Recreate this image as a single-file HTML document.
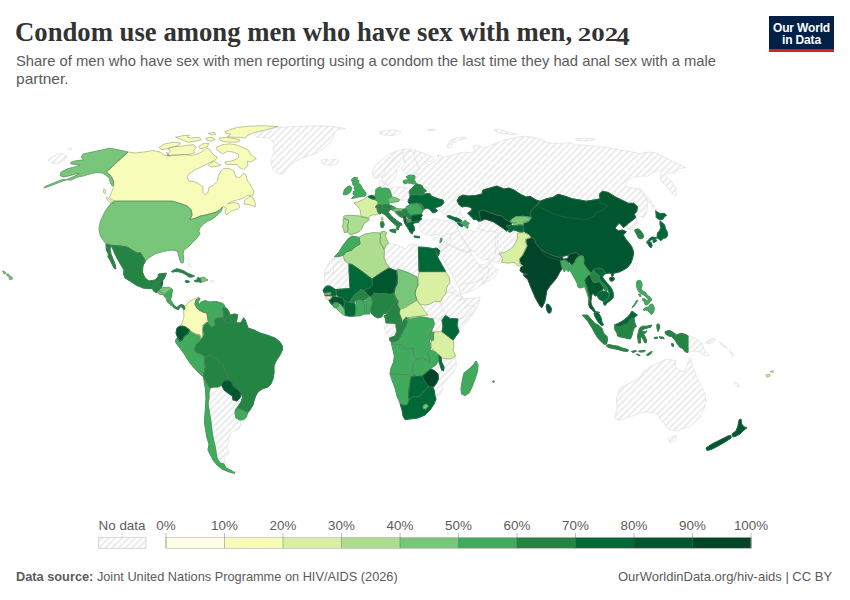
<!DOCTYPE html>
<html><head><meta charset="utf-8">
<style>
html,body{margin:0;padding:0;background:#fff;}
body{width:850px;height:600px;position:relative;overflow:hidden;font-family:"Liberation Sans",sans-serif;}
.t{position:absolute;white-space:nowrap;transform-origin:0 0;}
#title{left:15px;top:16px;font-family:"Liberation Serif",serif;font-weight:bold;font-size:27px;line-height:32px;color:#333;transform:scaleX(0.989);}
.sub{font-size:14.5px;line-height:18px;color:#5b5b5b;}
#logo{position:absolute;left:769px;top:16px;width:65px;height:33px;background:#002147;border-bottom:3px solid #ce261e;color:#fff;font-weight:bold;font-size:12px;line-height:12px;text-align:center;letter-spacing:-0.15px;}
#logo div{padding-top:5.5px}
.lg{position:absolute;font-size:13.4px;color:#5b5b5b;top:518.4px;width:60px;text-align:center;line-height:16px;}
.ft{font-size:13px;color:#5b5b5b;top:569px;line-height:16px;}
svg{position:absolute;left:0;top:0;}
</style></head><body>
<div id="title" class="t"><span id="tmain">Condom use among men who have sex with men,</span> <span id="y1" style="display:inline-block;font-size:18.2px;transform:scaleX(1.5);transform-origin:0 100%;width:39.4px;margin-left:-1.5px;">202</span><span id="y2" style="display:inline-block;font-size:24.2px;position:relative;top:4.3px;transform:scaleX(1.12);transform-origin:0 100%;">4</span></div>
<div id="s1" class="t sub" style="left:15.6px;top:52.3px;transform:scaleX(1.0195)">Share of men who have sex with men reporting using a condom the last time they had anal sex with a male</div>
<div id="s2" class="t sub" style="left:15.6px;top:70.3px;transform:scaleX(1.07)">partner.</div>
<div id="logo"><div>Our World<br>in Data</div></div>
<div id="f1" class="t ft" style="left:16px;transform:scaleX(0.982)"><b>Data source:</b> Joint United Nations Programme on HIV/AIDS (2026)</div>
<div id="f2" class="t ft" style="left:618px;">OurWorldinData.org/hiv-aids | CC BY</div>
<svg width="850" height="600" viewBox="0 0 850 600">
<defs><pattern id="hatch" patternUnits="userSpaceOnUse" width="4.69" height="4.69" patternTransform="rotate(-45)"><rect width="4.69" height="4.69" fill="#fff"/><line x1="0" y1="2.3" x2="4.69" y2="2.3" stroke="#e7e7e7" stroke-width="1.7"/></pattern></defs>
<path d="M254.9,135.0 258.4,132.2 268.3,129.3 278.2,127.2 289.6,126.8 299.5,126.5 310.8,125.8 322.2,125.8 333.5,126.5 345.5,128.6 337.7,129.6 334.2,132.2 334.2,135.7 332.1,139.2 329.9,142.8 326.4,146.3 322.2,149.9 317.2,152.7 310.8,155.1 303.7,157.7 296.7,160.5 291.7,163.3 287.5,168.3 284.6,172.5 281.1,174.4 276.1,172.5 273.3,169.7 271.2,164.7 270.5,159.8 272.6,155.5 274.7,152.0 272.9,148.5 274.7,144.9 271.9,140.7 267.6,137.8 261.2,137.8 256.3,137.1Z" fill="url(#hatch)" stroke="#d4d4d4" stroke-width="0.5" stroke-linejoin="round"/>
<path d="M321.0,160.5 324.3,159.1 329.2,160.2 334.2,159.1 338.0,160.2 338.4,162.6 334.9,164.5 329.9,165.5 325.0,164.7 321.9,163.0Z" fill="url(#hatch)" stroke="#d4d4d4" stroke-width="0.5" stroke-linejoin="round"/>
<path d="M237.6,314.6 241.0,315.0 243.6,318.0 241.0,322.6 239.0,323.0 237.0,322.0 237.0,319.0Z" fill="url(#hatch)" stroke="#d4d4d4" stroke-width="0.5" stroke-linejoin="round"/>
<path d="M210.0,388.0 213.0,387.0 218.0,387.0 221.6,385.0 224.0,390.0 228.0,393.0 232.4,396.0 233.0,400.0 237.0,401.0 240.0,398.0 241.6,401.0 239.0,405.0 237.0,408.0 235.6,409.0 235.0,413.0 236.0,418.0 240.0,420.0 241.0,425.0 239.0,429.0 234.0,431.0 230.0,434.0 229.0,438.0 228.0,443.0 227.0,447.0 228.0,451.0 229.0,454.0 226.0,456.0 224.4,459.0 225.0,463.0 228.0,464.0 227.0,466.0 229.0,468.0 234.0,471.0 237.0,472.0 235.0,473.0 230.0,470.0 226.0,468.0 224.0,464.0 220.0,463.0 217.0,458.0 216.0,452.0 215.0,446.0 213.6,440.0 212.4,434.0 211.6,428.0 211.0,422.0 210.0,416.0 209.0,410.0 208.0,404.0 209.0,398.0 209.0,392.0Z" fill="url(#hatch)" stroke="#d4d4d4" stroke-width="0.5" stroke-linejoin="round"/>
<path d="M688.0,335.6 696.0,338.0 702.0,343.0 704.0,349.0 709.0,355.0 705.0,356.0 700.0,352.0 695.0,351.0 690.0,352.0 688.0,350.0ZM706.0,342.0 712.0,340.0 715.0,338.0 716.0,340.0 712.0,342.4 708.0,344.0Z" fill="url(#hatch)" stroke="#d4d4d4" stroke-width="0.5" stroke-linejoin="round"/>
<path d="M625.8,225.8 628.3,223.3 631.7,220.8 635.8,217.5 637.5,221.7 635.0,225.8 633.3,229.2 630.0,230.0 627.5,228.3Z" fill="url(#hatch)" stroke="#d4d4d4" stroke-width="0.5" stroke-linejoin="round"/>
<path d="M373.0,170.0 374.0,167.0 378.0,163.0 383.0,159.0 388.0,155.0 394.0,152.0 402.0,149.6 409.0,149.0 414.0,150.0 420.0,152.0 427.0,154.4 431.4,156.0 434.0,158.0 433.0,160.0 430.0,161.4 427.0,161.0 425.0,162.0 426.0,164.0 429.0,164.4 431.0,163.4 434.0,161.4 437.0,159.4 439.0,157.4 437.0,155.0 440.0,155.0 442.4,157.0 444.0,157.0 450.0,156.0 456.0,154.0 464.0,152.0 472.0,153.0 475.0,150.0 473.0,146.0 478.0,145.0 484.0,148.0 490.0,146.0 496.0,143.0 504.0,140.0 514.0,138.0 524.0,136.0 532.0,137.0 540.0,139.0 547.5,142.5 558.8,143.8 570.0,142.5 575.0,145.0 585.0,145.0 597.5,146.2 607.5,147.5 620.0,150.0 630.0,151.2 640.0,153.8 647.5,152.0 655.0,152.5 665.0,157.5 675.0,162.5 681.2,165.0 685.5,167.5 678.8,168.8 675.0,173.8 670.0,172.5 666.2,176.2 672.5,182.5 676.2,188.8 676.2,196.2 672.5,193.8 667.5,187.5 662.5,182.5 660.0,178.8 661.2,173.8 658.8,170.0 653.8,172.5 647.5,176.2 640.0,176.2 632.5,177.5 626.2,181.2 625.0,186.2 630.0,187.5 637.5,188.8 643.8,193.8 647.0,201.2 647.5,207.5 646.2,213.8 643.8,217.5 638.8,216.2 632.5,215.0 612.5,203.8 587.5,206.2 562.5,203.8 537.5,206.2 515.0,196.2 500.0,192.5 490.0,199.0 470.0,200.0 459.0,201.0 462.0,207.0 460.0,210.3 460.7,213.7 463.3,217.0 466.0,220.3 460.0,220.0 453.3,217.5 448.3,216.3 447.0,216.0 444.0,213.5 441.0,211.5 438.5,210.5 439.5,209.0 441.5,208.0 443.0,206.5 442.0,204.0 435.0,199.0 428.0,194.0 420.0,190.0 413.0,182.0 412.0,177.5 415.0,176.5 417.5,176.0 419.0,173.4 415.4,174.0 412.0,174.8 408.0,174.4 405.0,173.4 403.0,171.4 401.4,169.0 402.4,166.4 404.4,164.0 405.0,161.4 404.0,161.4 402.4,162.4 400.4,164.4 398.0,167.4 396.4,170.0 397.4,172.4 397.0,174.4 395.4,176.4 395.0,178.4 393.4,180.0 391.4,181.4 390.0,184.0 387.4,185.4 385.0,184.4 383.4,182.0 382.0,179.0 381.4,176.0 379.0,177.4 376.0,178.4 373.4,177.0 372.0,173.0Z" fill="url(#hatch)" stroke="#d4d4d4" stroke-width="0.5" stroke-linejoin="round"/>
<path d="M391.5,188.5 394.4,187.4 400.9,186.8 403.2,187.6 407.9,188.2 410.8,190.3 412.0,194.4 412.0,198.0 409.0,200.2 403.2,200.3 399.7,199.7 397.4,200.3 393.8,196.2 391.5,195.0 390.5,191.0Z" fill="url(#hatch)" stroke="#d4d4d4" stroke-width="0.5" stroke-linejoin="round"/>
<path d="M379.0,132.0 386.0,130.4 394.0,130.0 401.0,131.6 398.0,134.4 392.0,135.6 385.0,135.0 380.0,134.0Z" fill="url(#hatch)" stroke="#d4d4d4" stroke-width="0.5" stroke-linejoin="round"/>
<path d="M447.0,146.0 449.0,141.0 455.0,138.4 464.0,137.0 467.0,138.0 460.0,140.0 454.0,142.0 451.0,147.0 448.0,148.0Z" fill="url(#hatch)" stroke="#d4d4d4" stroke-width="0.5" stroke-linejoin="round"/>
<path d="M494.0,130.0 500.0,129.0 508.0,132.0 518.0,134.0 514.0,135.0 504.0,133.6 498.0,132.4Z" fill="url(#hatch)" stroke="#d4d4d4" stroke-width="0.5" stroke-linejoin="round"/>
<path d="M427.0,129.6 435.0,129.0 435.0,130.4 428.0,130.6Z" fill="url(#hatch)" stroke="#d4d4d4" stroke-width="0.5" stroke-linejoin="round"/>
<path d="M638.8,187.5 643.8,192.5 650.0,200.0 656.2,208.8 657.5,212.5 653.8,208.8 647.5,200.0 641.2,192.5Z" fill="url(#hatch)" stroke="#d4d4d4" stroke-width="0.5" stroke-linejoin="round"/>
<path d="M575.0,138.8 585.0,138.0 595.0,139.5 587.5,141.2 577.5,140.5Z" fill="url(#hatch)" stroke="#d4d4d4" stroke-width="0.5" stroke-linejoin="round"/>
<path d="M419.0,223.7 418.3,221.7 421.0,220.6 425.0,219.7 429.0,220.3 433.0,219.0 438.3,219.7 443.7,220.3 447.7,221.0 450.3,219.7 454.3,221.7 463.7,225.8 467.5,228.3 468.0,227.7 470.0,229.7 473.3,231.3 475.3,231.7 478.0,229.7 478.7,226.3 479.3,223.0 478.0,221.0 476.0,219.0 473.7,219.7 480.7,221.3 485.0,219.7 493.3,222.3 503.3,228.7 506.7,231.7 510.8,232.0 516.7,231.0 521.3,231.7 523.3,230.8 517.5,233.3 517.5,238.3 515.8,242.5 513.3,246.7 509.2,250.0 504.2,252.5 499.2,253.3 502.5,258.3 501.7,262.5 501.0,263.5 498.0,263.0 494.0,262.0 490.5,260.8 489.0,259.5 485.0,260.0 481.0,259.0 478.0,256.5 475.5,253.5 473.0,251.0 470.5,251.0 470.0,252.5 471.0,253.5 473.0,256.5 475.5,260.0 477.5,262.5 479.0,264.5 482.0,265.0 485.0,264.0 487.5,262.5 489.8,261.8 491.0,264.0 493.0,266.5 496.5,269.0 498.0,270.5 496.5,274.5 494.0,277.5 490.0,280.0 486.0,282.0 482.0,284.5 478.0,287.0 474.0,289.5 470.0,291.5 465.0,293.0 461.0,294.0 460.0,293.0 459.5,289.0 457.0,284.0 454.5,279.0 451.5,274.0 449.5,270.0 447.0,266.0 444.0,261.0 441.0,256.5 439.5,252.5 438.1,247.7 439.4,244.3 440.3,241.0 440.7,237.7 439.9,237.4 438.3,235.0 435.0,234.3 431.7,235.7 427.7,235.0 424.3,233.7 421.7,232.3 419.9,229.7 419.0,227.0Z" fill="url(#hatch)" stroke="#d4d4d4" stroke-width="0.5" stroke-linejoin="round"/>
<path d="M335.0,257.0 343.5,257.0 345.0,261.0 349.0,264.0 349.0,270.0 350.0,288.5 336.0,289.5 333.0,288.0 330.0,286.0 326.5,286.0 324.5,288.0 325.0,283.0 324.0,275.0 325.5,269.0 329.0,263.0 332.0,259.0Z" fill="url(#hatch)" stroke="#d4d4d4" stroke-width="0.5" stroke-linejoin="round"/>
<path d="M384.4,247.0 386.0,245.0 389.0,243.0 397.0,245.0 402.0,247.0 406.0,249.0 409.0,245.0 414.0,244.0 418.4,246.6 419.0,271.4 419.0,275.0 417.0,277.0 408.0,272.6 397.0,268.0 389.0,267.0 386.0,263.0 384.0,258.0 384.4,251.0Z" fill="url(#hatch)" stroke="#d4d4d4" stroke-width="0.5" stroke-linejoin="round"/>
<path d="M450.0,283.0 454.4,289.0 459.4,294.0 461.8,296.4 462.4,298.6 471.0,298.6 480.2,297.0 479.4,301.0 477.2,307.0 472.6,314.8 466.4,322.4 462.6,327.0 458.0,331.0 457.0,325.0 458.0,318.6 451.0,319.0 446.0,315.0 442.4,316.0 441.0,321.0 442.4,325.0 441.0,331.0 433.0,333.0 432.0,329.0 434.0,323.0 433.0,318.0 428.0,315.0 425.0,311.4 419.6,304.0 425.0,305.0 430.0,304.0 435.0,301.0 440.0,302.0 442.4,298.0 446.0,293.0 447.0,286.0Z" fill="url(#hatch)" stroke="#d4d4d4" stroke-width="0.5" stroke-linejoin="round"/>
<path d="M386.0,323.0 390.0,323.0 396.0,323.4 396.0,327.0 397.0,331.0 395.0,336.0 389.6,338.0 387.0,334.0 384.4,329.0 384.0,325.0Z" fill="url(#hatch)" stroke="#d4d4d4" stroke-width="0.5" stroke-linejoin="round"/>
<path d="M443.0,358.4 450.0,359.0 455.6,356.0 456.4,366.0 454.0,372.0 448.0,378.0 443.0,384.0 442.4,390.0 439.0,396.0 435.0,399.0 435.0,396.0 434.4,391.0 433.0,387.6 436.0,384.0 438.4,379.0 438.0,374.0 435.0,371.0 431.0,369.0 436.0,365.0 438.0,361.0 440.4,366.0 441.6,370.0 443.6,371.0 444.0,367.0 441.6,362.0Z" fill="url(#hatch)" stroke="#d4d4d4" stroke-width="0.5" stroke-linejoin="round"/>
<path d="M615.0,417.0 617.0,408.0 616.4,398.0 620.0,388.0 630.0,383.0 640.0,377.0 643.0,372.0 650.0,367.0 658.0,363.0 664.0,360.0 669.0,359.0 676.0,361.0 675.0,366.0 679.0,370.0 684.0,372.0 687.0,365.0 689.0,358.0 691.0,359.0 692.4,366.0 695.0,372.0 698.0,380.0 702.0,387.0 705.0,394.0 706.0,401.0 704.0,409.0 700.0,417.0 695.0,422.0 689.0,427.0 682.0,429.0 676.0,431.0 670.0,430.0 666.0,427.0 664.0,422.0 660.0,420.0 659.0,416.0 654.0,413.0 647.0,412.0 640.0,413.0 633.0,416.0 626.0,418.0 620.0,420.0 615.0,419.0ZM668.0,438.0 673.0,435.6 677.0,436.4 675.0,441.0 670.0,442.4Z" fill="url(#hatch)" stroke="#d4d4d4" stroke-width="0.5" stroke-linejoin="round"/>
<path d="M706.0,341.7 712.7,338.3 714.3,340.7 709.3,344.0ZM719.3,341.7 726.0,346.7 727.7,349.3 721.0,345.0ZM729.3,350.0 734.3,355.0 732.7,356.7ZM734.3,381.7 739.3,385.0 738.7,387.3 734.3,384.0Z" fill="url(#hatch)" stroke="#d4d4d4" stroke-width="0.5" stroke-linejoin="round"/>
<path d="M48.3,160.0 55.0,155.0 61.7,153.3 66.7,156.0 65.0,160.0 58.3,163.3 51.7,163.3ZM68.3,148.3 71.7,147.7 72.0,149.3 69.0,150.0Z" fill="url(#hatch)" stroke="#d4d4d4" stroke-width="0.5" stroke-linejoin="round"/>
<path d="M406.2,216.5 407.9,217.3 408.2,219.2 406.8,219.6 405.8,218.3Z" fill="#fff" stroke="#d4d4d4" stroke-width="0.5" stroke-linejoin="round"/>
<path d="M562.0,256.7 565.0,255.8 568.3,256.7 567.5,258.7 563.3,259.2Z" fill="#fff" stroke="#d4d4d4" stroke-width="0.5" stroke-linejoin="round"/>
<path d="M652.0,351.5 655.0,350.8 654.0,352.0 651.0,353.5Z" fill="#fff" stroke="#d4d4d4" stroke-width="0.5" stroke-linejoin="round"/>
<path d="M633.5,264.5 635.5,263.0 636.8,264.5 636.5,268.0 635.5,271.5 634.0,270.0 633.2,267.0Z" fill="#fff" stroke="#d4d4d4" stroke-width="0.5" stroke-linejoin="round"/>
<path d="M403.2,187.6 403.8,184.7 406.8,183.8 410.3,183.8 413.2,185.3 411.5,187.6 409.1,189.1 407.9,188.2Z" fill="#fff" stroke="#d4d4d4" stroke-width="0.5" stroke-linejoin="round"/>
<path d="M394.0,200.0 397.4,200.3 403.2,200.3 407.9,199.7 409.7,200.9 408.8,203.8 406.8,206.8 403.2,208.5 399.7,209.1 397.4,207.9 396.2,205.6 394.0,204.0Z" fill="#fff" stroke="#d4d4d4" stroke-width="0.5" stroke-linejoin="round"/>
<path d="M379.0,181.5 381.5,180.5 382.5,183.0 384.0,184.5 383.0,186.5 380.5,186.5 379.0,184.5ZM384.5,184.0 386.5,183.5 387.0,185.5 385.0,186.0Z" fill="#fff" stroke="#d4d4d4" stroke-width="0.5" stroke-linejoin="round"/>
<path d="M371.5,191.5 373.5,190.0 376.0,189.5 375.8,192.5 375.0,195.0 373.5,195.8 371.0,195.2Z" fill="#fff" stroke="#d4d4d4" stroke-width="0.5" stroke-linejoin="round"/>
<path d="M432.3,239.0 435.0,237.9 437.0,237.4 436.3,239.0 433.7,240.1Z" fill="#fff" stroke="#d4d4d4" stroke-width="0.5" stroke-linejoin="round"/>
<path d="M186.4,259.0 189.0,258.4 190.4,261.0 189.0,262.4 187.6,261.0ZM188.0,264.0 190.0,263.6 190.4,266.4 188.8,266.0Z" fill="#fff" stroke="#d4d4d4" stroke-width="0.5" stroke-linejoin="round"/>
<path d="M210.0,280.5 213.8,280.5 214.0,282.2 210.2,282.4Z" fill="#fff" stroke="#d4d4d4" stroke-width="0.5" stroke-linejoin="round"/>
<path d="M221.0,297.0 223.0,297.0 223.0,299.0 221.0,299.0Z" fill="#fff" stroke="#d4d4d4" stroke-width="0.5" stroke-linejoin="round"/>
<path d="M128.0,152.0 135.0,153.0 143.8,152.0 152.5,150.5 160.0,152.0 163.8,155.0 170.0,156.2 166.5,152.1 168.1,155.4 176.4,155.4 184.6,154.6 192.8,155.4 197.8,153.8 202.7,151.3 206.8,148.0 210.1,149.7 211.8,152.9 214.3,155.4 217.5,157.1 215.9,159.5 212.6,161.2 207.7,163.7 201.1,167.0 194.5,170.2 189.5,173.5 187.1,176.8 188.7,181.0 194.5,181.8 199.4,184.3 203.0,186.7 202.7,192.5 205.2,195.0 208.0,192.5 209.0,187.5 213.4,185.1 217.5,181.0 218.4,176.0 220.8,171.1 223.3,168.6 229.1,168.6 234.0,171.1 235.7,176.8 239.8,177.7 243.1,173.5 245.6,174.4 247.2,180.1 250.5,185.1 253.8,190.8 253.8,192.5 252.5,196.2 247.5,195.0 245.0,197.5 238.8,199.5 232.5,201.2 227.5,203.8 233.8,202.5 238.8,203.8 239.5,207.5 236.2,209.5 231.2,211.2 226.2,215.0 225.0,211.2 226.2,208.0 223.2,206.2 222.5,207.0 220.0,210.0 215.0,212.5 207.5,214.5 200.0,216.2 193.8,218.8 190.0,219.5 192.0,215.0 191.2,210.0 187.5,206.2 181.2,203.8 172.5,201.2 172.5,201.2 113.8,201.2 109.5,197.5 112.5,190.0 113.8,186.2 113.8,183.8 112.5,178.8 110.0,175.0 106.2,172.0ZM245.0,200.0 250.0,196.2 253.8,198.8 255.5,203.8 255.0,207.0 251.2,205.0 247.5,204.5 243.8,203.8ZM216.7,147.2 222.5,144.7 229.1,143.9 235.7,144.7 242.3,147.2 248.8,150.5 251.3,155.4 256.3,158.7 250.5,162.0 247.2,161.2 248.0,165.3 243.9,169.4 239.8,167.8 237.3,164.5 232.4,164.5 225.8,164.2 225.0,162.0 230.7,161.2 235.7,159.5 239.0,157.1 238.1,153.8 233.2,152.1 227.4,151.3 222.5,153.8 220.0,152.1 216.7,149.7ZM225.0,131.5 230.7,129.6 237.3,127.4 248.8,126.3 263.7,125.8 277.7,126.6 268.6,129.1 258.7,131.5 252.1,133.2 247.2,135.7 245.6,138.1 239.8,137.3 232.4,137.3 227.4,136.5 230.7,134.0 225.8,133.2ZM219.2,138.1 225.8,137.3 234.0,138.5 239.8,139.8 239.0,141.7 232.4,142.2 224.1,141.7 220.0,140.1ZM167.8,148.8 172.2,147.2 178.8,146.4 186.2,145.5 193.7,144.7 196.1,147.2 193.7,150.5 194.5,152.9 188.7,154.6 179.7,154.6 173.1,154.9 167.3,155.9 168.9,152.9 170.6,150.5ZM159.1,147.2 164.8,143.9 173.1,142.2 180.5,143.1 178.8,145.5 171.4,147.2 166.5,148.8 161.5,149.7ZM175.5,137.3 182.9,135.7 189.5,135.2 187.1,137.3 191.2,138.1 199.4,137.3 201.1,139.8 194.5,141.4 187.9,142.2 183.8,140.6 179.7,138.9ZM198.6,146.4 202.7,143.9 208.5,143.1 207.7,146.4 203.5,148.0 200.2,148.8ZM206.0,138.1 211.8,137.3 215.1,139.4 211.0,141.1 206.8,140.1ZM208.5,133.2 214.3,132.4 215.9,134.5 211.0,134.8ZM208.5,165.3 213.4,161.2 217.5,163.2 220.8,165.3 215.9,166.5 211.0,167.0ZM106.2,197.0 111.2,200.5 113.8,203.8 110.0,202.5 107.0,199.5ZM103.8,188.8 105.8,190.0 105.0,193.8 103.5,192.5Z" fill="#f7fcb9" stroke="#f7fcb9" stroke-width="1" stroke-linejoin="round"/>
<path d="M540.0,201.2 546.2,198.8 552.5,197.5 558.0,194.2 565.0,196.2 572.5,198.8 580.0,200.0 586.2,201.2 593.8,200.0 600.0,198.8 599.5,193.8 602.5,191.2 608.3,192.5 615.0,196.7 621.7,200.0 628.3,203.3 633.7,203.3 637.5,206.7 636.7,211.7 634.2,214.2 635.8,217.5 631.7,220.8 628.3,223.3 625.8,225.8 623.3,227.5 620.8,224.2 619.2,223.3 616.7,225.8 615.0,228.3 618.3,230.8 622.5,230.0 626.3,231.7 623.3,235.0 625.8,239.2 630.0,244.2 632.5,248.3 633.7,253.3 632.5,258.3 630.8,263.3 627.5,267.5 623.3,270.0 619.2,272.0 615.0,273.0 613.5,273.5 612.8,276.5 611.8,276.0 611.5,273.5 609.0,273.0 606.0,273.5 604.5,271.5 602.5,269.0 599.0,268.0 595.0,269.0 593.0,270.5 591.2,273.5 589.0,271.5 586.5,268.0 583.5,264.0 584.0,259.5 583.0,256.0 580.0,256.0 576.7,252.5 571.7,253.3 568.3,255.0 565.0,255.8 562.0,256.7 560.0,257.5 553.3,255.8 546.7,253.0 541.7,250.0 539.2,247.5 535.8,243.3 534.2,238.3 530.8,237.5 529.2,235.0 523.3,230.8 522.5,227.5 523.3,222.5 528.3,220.8 530.8,218.0 530.0,213.3 533.3,208.3 536.7,205.0ZM609.5,278.0 611.5,277.0 614.0,277.5 614.2,279.5 612.5,281.2 610.2,280.8Z" fill="#00572f" stroke="#00572f" stroke-width="1" stroke-linejoin="round"/>
<path d="M215.0,325.0 214.0,321.0 216.0,318.0 220.0,317.0 223.6,318.0 225.0,322.0 228.0,324.0 231.0,321.0 233.0,323.0 236.0,322.6 239.0,323.0 241.0,322.6 243.6,318.0 245.0,319.4 247.0,325.0 248.0,328.0 254.0,330.0 260.0,333.0 268.0,335.4 275.0,338.0 280.0,342.0 282.4,346.0 282.4,350.0 280.0,355.0 276.0,361.0 274.0,366.0 274.0,373.0 273.0,379.0 271.0,384.0 268.0,387.0 262.0,389.0 258.0,392.0 255.6,396.0 254.0,401.0 253.0,405.0 250.0,410.0 247.6,413.0 244.0,411.0 239.0,409.0 237.0,408.0 239.0,405.0 241.6,401.0 242.4,397.0 241.0,393.0 237.0,389.0 233.0,386.0 231.0,381.0 228.0,379.0 227.0,373.0 224.4,370.0 223.6,365.0 220.0,362.0 215.0,358.0 211.0,355.0 208.0,356.0 205.0,357.0 200.0,354.0 196.0,353.0 194.0,349.0 195.6,344.0 199.0,342.0 201.0,339.0 203.0,335.0 202.4,330.0 203.0,325.0 207.0,322.0 209.0,324.0 211.6,327.0Z" fill="#238443" stroke="#238443" stroke-width="1" stroke-linejoin="round"/>
<path d="M113.8,201.2 172.5,201.2 172.5,201.2 181.2,203.8 187.5,206.2 191.2,210.0 192.0,215.0 190.0,219.5 193.8,218.8 200.0,216.2 207.5,214.5 215.0,212.5 220.0,210.0 222.5,207.0 221.2,211.2 216.2,216.2 212.5,218.8 207.5,221.2 203.8,223.8 200.0,227.5 198.8,231.2 200.0,233.8 196.2,238.8 191.2,243.8 187.5,247.5 183.8,250.0 183.0,253.8 183.8,258.8 183.0,263.0 180.8,262.5 178.8,256.2 177.5,251.2 172.5,250.0 166.2,250.8 161.2,252.0 155.0,253.8 150.0,257.0 146.2,260.0 144.5,263.8 143.8,257.5 140.0,252.5 135.0,253.0 130.0,250.0 125.0,247.0 115.0,245.5 106.2,243.8 105.0,242.5 100.5,236.2 99.0,228.8 100.5,221.2 104.5,212.5 109.5,205.0Z" fill="#78c679" stroke="#78c679" stroke-width="1" stroke-linejoin="round"/>
<path d="M582.2,315.2 587.5,315.0 591.0,319.0 595.0,323.5 599.0,325.5 602.0,328.5 603.5,333.0 607.0,336.5 607.5,340.0 606.5,344.0 604.5,344.5 601.0,341.5 597.5,337.5 594.5,332.5 591.5,327.0 588.0,321.5 584.5,317.5ZM606.0,345.5 609.0,344.5 613.0,345.5 618.0,346.2 622.0,348.0 626.0,349.0 628.5,350.0 627.5,351.5 623.0,351.0 618.0,349.5 613.0,348.5 608.5,347.5ZM631.5,351.5 635.0,350.5 636.5,351.2 633.0,352.5ZM638.5,351.2 643.0,350.5 645.5,350.5 644.0,351.8 640.0,352.0ZM636.5,354.0 639.0,354.5 640.0,355.8 637.5,355.0ZM646.5,355.0 649.5,352.5 652.0,351.5 651.0,353.5 648.0,355.5ZM615.0,324.5 616.0,326.0 618.0,326.5 620.5,326.5 623.0,325.0 626.0,324.0 628.5,322.5 629.5,320.0 631.0,318.5 634.0,318.0 634.5,321.5 635.5,325.0 636.5,326.5 634.5,327.5 633.0,331.0 632.0,335.0 630.5,339.0 627.0,338.5 624.0,337.5 620.5,337.0 617.5,336.0 617.0,333.0 615.0,330.0 614.5,327.0ZM640.0,327.5 643.0,326.2 647.0,326.2 651.5,325.0 651.0,327.0 647.5,328.0 644.0,329.0 641.8,330.0 643.0,332.0 647.0,331.0 646.0,332.5 643.5,334.0 645.0,336.5 646.5,340.0 646.2,343.0 644.5,342.5 643.0,339.0 641.5,336.0 640.5,339.0 640.5,343.0 638.5,343.0 638.0,339.0 637.5,336.0 638.5,332.0 639.0,329.5ZM657.2,324.0 659.0,324.2 659.8,327.0 659.0,329.5 658.0,331.5 657.2,329.0 656.8,326.0ZM654.2,337.5 657.5,337.0 657.5,338.3 654.5,338.7ZM659.2,336.7 663.3,337.2 664.2,338.7 660.0,338.3ZM665.0,331.7 669.2,330.3 673.3,332.5 676.7,335.0 680.8,333.3 685.0,334.2 688.0,335.8 688.0,352.5 685.0,351.7 682.5,348.3 680.0,347.5 677.5,344.2 675.0,340.0 671.7,336.7 668.3,335.8 665.8,334.2ZM671.7,343.3 673.7,344.2 673.3,346.7 671.7,345.8Z" fill="#238443" stroke="#238443" stroke-width="1" stroke-linejoin="round"/>
<path d="M525.8,239.2 530.8,237.5 534.2,238.3 535.8,243.3 539.2,247.5 541.7,250.0 546.7,253.0 553.3,255.8 560.0,257.5 560.8,256.7 562.0,256.7 563.3,259.2 567.5,258.7 568.3,256.7 568.3,255.0 571.7,253.3 576.7,252.5 579.2,255.8 576.7,259.2 575.0,263.3 572.5,266.7 570.8,264.2 569.2,261.7 568.0,265.0 567.5,261.7 564.2,260.0 560.8,260.8 561.3,265.0 562.5,268.3 560.0,271.7 555.8,279.2 550.0,285.8 546.7,290.8 545.8,296.7 544.6,302.5 541.6,307.9 539.3,304.8 535.4,297.9 530.8,287.1 527.8,279.5 523.2,274.9 527.5,274.2 523.3,273.3 520.0,270.8 520.8,267.5 522.5,265.8 520.0,263.3 519.2,259.2 522.5,255.0 525.0,250.0 527.0,245.8 525.8,242.5Z" fill="#004529" stroke="#004529" stroke-width="1" stroke-linejoin="round"/>
<path d="M128.0,152.0 118.8,150.0 109.5,148.2 102.5,150.0 96.2,151.2 88.0,153.0 83.0,154.2 81.2,157.5 83.8,160.0 77.5,160.5 71.2,162.0 70.8,163.8 76.2,164.5 80.0,165.0 75.0,167.0 67.5,168.8 61.2,172.0 60.0,175.5 63.8,177.0 70.0,175.5 76.2,173.8 80.0,173.0 74.5,176.2 68.8,178.8 60.0,182.0 51.2,185.5 43.8,188.0 45.0,186.5 53.8,183.0 62.5,179.5 71.2,180.0 77.5,177.0 83.8,175.8 90.0,173.8 96.2,172.5 102.5,173.0 105.8,175.0 109.5,178.8 110.5,183.0 112.5,186.2 113.8,183.8 112.5,178.8 110.0,175.0 106.2,172.0Z" fill="#78c679" stroke="#78c679" stroke-width="1" stroke-linejoin="round"/>
<path d="M203.6,377.0 205.6,381.0 208.0,385.0 210.0,388.0 209.0,392.0 209.0,398.0 208.0,404.0 209.0,410.0 210.0,416.0 211.0,422.0 211.6,428.0 212.4,434.0 213.6,440.0 215.0,446.0 216.0,452.0 217.0,458.0 220.0,463.0 224.0,464.0 226.0,468.0 230.0,470.0 235.0,473.0 233.0,473.0 228.0,471.6 222.0,469.0 217.0,465.0 213.0,460.0 210.0,454.0 208.0,450.0 209.0,444.0 207.0,438.0 205.6,430.0 204.4,422.0 205.0,414.0 205.6,406.0 206.0,398.0 205.6,390.0 204.4,383.0Z" fill="#41ab5d" stroke="#41ab5d" stroke-width="1" stroke-linejoin="round"/>
<path d="M457.6,200.0 459.0,197.0 463.0,195.0 468.0,196.0 475.0,195.6 482.0,194.0 483.0,190.0 490.0,188.0 497.0,186.0 504.0,189.0 509.0,188.0 514.0,190.0 520.0,194.0 526.0,197.0 530.0,196.2 536.2,200.0 540.0,201.2 536.7,205.0 533.3,208.3 530.0,213.3 530.8,217.5 523.3,216.3 515.8,216.7 511.7,219.2 510.0,221.7 505.0,219.2 501.7,215.8 496.7,215.0 490.0,212.5 483.3,210.0 478.7,211.3 480.0,217.0 480.7,221.0 478.0,221.1 476.0,219.0 473.7,219.7 472.7,218.0 469.3,215.0 467.7,213.0 471.3,210.7 472.0,208.3 469.3,207.0 465.3,206.3 462.0,207.0 458.7,204.3 457.0,200.0Z" fill="#00572f" stroke="#00572f" stroke-width="1" stroke-linejoin="round"/>
<path d="M111.6,245.6 114.0,245.6 121.0,246.0 127.0,247.0 132.0,250.0 137.0,253.0 140.0,252.4 143.0,257.0 145.0,260.4 143.0,266.0 142.4,272.0 145.0,278.0 149.0,281.0 155.0,280.0 158.0,277.0 158.4,274.0 166.4,273.2 165.0,277.0 163.4,280.0 162.4,280.4 160.4,280.4 160.4,282.4 158.0,282.4 155.0,284.0 152.4,288.6 148.0,288.6 143.0,288.0 136.0,285.0 130.0,281.0 125.0,278.0 123.6,274.0 124.0,270.0 121.0,265.0 118.0,260.0 115.0,254.0 112.4,248.0ZM106.0,244.0 111.6,245.6 110.0,249.0 111.0,254.0 113.0,259.0 115.0,264.0 116.0,269.0 114.0,268.0 112.0,264.0 110.0,260.0 108.0,257.0 108.4,254.0 106.4,250.0Z" fill="#238443" stroke="#238443" stroke-width="1" stroke-linejoin="round"/>
<path d="M359.0,237.4 365.0,234.0 374.0,232.6 380.0,233.0 381.0,238.0 380.0,243.0 383.0,247.0 384.4,251.0 384.0,258.0 386.0,263.0 389.0,267.0 389.0,268.0 380.0,273.5 372.0,279.0 368.0,276.0 360.0,270.0 352.0,264.5 349.0,264.0 345.0,261.0 343.5,257.0 343.6,255.0 346.0,252.0 352.0,250.0 355.0,247.0 360.0,244.0Z" fill="#addd8e" stroke="#addd8e" stroke-width="1" stroke-linejoin="round"/>
<path d="M406.0,318.0 416.0,316.0 426.0,317.6 433.0,319.0 434.4,324.0 432.0,330.0 430.0,335.0 429.6,341.0 431.0,346.0 430.0,350.0 428.0,353.0 429.0,357.0 430.0,363.0 426.0,360.0 422.0,358.0 418.0,359.0 415.0,358.0 413.6,353.0 413.0,348.0 406.0,349.0 402.0,345.0 395.0,344.4 391.6,344.0 391.0,341.0 396.0,340.0 400.0,336.0 402.0,330.0 404.0,324.0Z" fill="#41ab5d" stroke="#41ab5d" stroke-width="1" stroke-linejoin="round"/>
<path d="M180.0,341.0 182.0,339.0 185.0,336.0 188.0,333.0 189.0,329.4 192.0,332.0 196.0,334.0 200.0,335.0 201.0,339.0 199.0,342.0 195.6,344.0 194.0,349.0 196.0,353.0 200.0,354.0 205.0,357.0 204.4,362.0 205.6,367.0 204.0,373.0 203.6,377.0 200.0,374.0 195.0,369.0 190.0,363.0 185.0,355.0 180.0,348.0 176.0,343.0 175.6,340.0 177.0,338.0 178.0,338.0Z" fill="#41ab5d" stroke="#41ab5d" stroke-width="1" stroke-linejoin="round"/>
<path d="M349.0,264.0 352.0,264.5 360.0,270.0 368.0,276.0 372.0,279.0 372.5,285.0 370.0,288.0 364.5,289.5 364.0,291.0 361.0,289.5 358.0,292.0 355.0,294.5 352.0,298.0 350.0,302.0 347.0,302.0 344.0,300.5 343.0,297.5 340.0,297.0 336.5,295.0 336.0,289.5 350.0,288.5 349.0,270.0Z" fill="#006837" stroke="#006837" stroke-width="1" stroke-linejoin="round"/>
<path d="M739.0,420.0 741.0,419.0 741.6,424.0 744.0,427.0 747.0,427.6 743.0,431.0 740.0,434.0 736.0,436.0 733.0,437.0 732.0,434.0 736.0,431.0 738.0,426.0ZM706.0,448.0 712.0,444.0 720.0,440.0 728.0,436.0 731.0,435.6 731.0,438.0 725.0,442.0 718.0,446.0 711.0,449.6 707.0,450.4Z" fill="#00572f" stroke="#00572f" stroke-width="1" stroke-linejoin="round"/>
<path d="M400.0,403.6 404.0,405.0 407.6,404.0 408.4,398.0 410.0,399.6 413.0,396.4 417.0,397.0 421.0,395.0 425.0,390.0 429.0,386.4 433.0,387.6 434.4,391.0 435.0,396.0 436.0,399.0 434.0,404.0 430.0,410.0 425.0,415.0 418.0,418.0 410.0,419.0 405.0,419.6 403.0,416.0 402.0,410.0Z" fill="#006837" stroke="#006837" stroke-width="1" stroke-linejoin="round"/>
<path d="M419.0,272.0 445.6,272.0 449.0,277.0 450.0,283.0 447.0,286.0 446.0,293.0 442.4,298.0 440.0,302.0 435.0,301.0 430.0,304.0 425.0,305.0 419.6,304.0 417.0,300.0 415.0,294.0 416.0,289.0 418.0,285.0 418.4,277.0Z" fill="#d9f0a3" stroke="#d9f0a3" stroke-width="1" stroke-linejoin="round"/>
<path d="M199.0,297.0 196.0,300.0 195.0,304.0 196.4,307.0 199.0,310.0 203.0,312.0 207.0,313.0 207.6,317.0 207.0,322.0 203.0,325.0 202.4,330.0 203.0,335.0 201.0,339.0 200.0,335.0 196.0,334.0 192.0,332.0 189.0,329.4 185.0,327.0 181.6,325.0 182.4,321.0 184.0,317.0 183.6,311.0 184.4,307.0 187.0,304.0 190.0,301.0 195.0,298.6Z" fill="#f7fcb9" stroke="#f7fcb9" stroke-width="1" stroke-linejoin="round"/>
<path d="M517.5,233.3 523.3,232.5 529.2,235.0 530.8,237.5 525.8,239.2 525.8,242.5 527.0,245.8 525.0,250.0 522.5,255.0 519.2,259.2 520.0,263.3 522.5,265.8 517.5,265.8 515.0,262.5 508.3,263.0 501.7,262.5 502.5,258.3 499.2,253.3 504.2,252.5 509.2,250.0 513.3,246.7 515.8,242.5 517.5,238.3Z" fill="#d9f0a3" stroke="#d9f0a3" stroke-width="1" stroke-linejoin="round"/>
<path d="M576.0,259.0 578.0,257.5 580.0,256.0 583.0,256.0 584.0,259.5 583.5,264.0 586.5,268.0 589.0,271.5 591.2,273.5 588.5,275.5 586.5,277.5 585.0,280.0 585.5,283.0 586.5,285.0 587.5,289.0 588.5,293.0 589.5,297.0 590.0,300.0 589.0,301.0 588.2,297.0 587.0,293.0 585.5,289.0 584.5,286.2 583.5,287.0 580.5,288.0 578.0,287.0 577.5,284.0 575.5,280.0 573.0,275.5 571.0,272.0 569.0,269.0 568.5,265.0 571.0,266.0 573.0,264.5 575.0,262.0Z" fill="#41ab5d" stroke="#41ab5d" stroke-width="1" stroke-linejoin="round"/>
<path d="M396.5,270.5 397.5,269.0 408.0,272.6 417.0,277.0 418.0,285.0 416.0,289.0 415.0,294.0 417.0,300.0 414.0,302.0 409.0,305.0 404.0,308.0 400.0,309.0 399.0,308.0 397.5,305.0 398.0,301.0 395.5,297.5 394.0,293.5 395.0,288.0 397.0,284.0 397.5,279.0Z" fill="#78c679" stroke="#78c679" stroke-width="1" stroke-linejoin="round"/>
<path d="M372.0,279.0 380.0,273.5 389.0,268.0 394.0,270.0 396.5,270.5 397.5,279.0 397.0,284.0 395.0,288.0 394.0,293.5 390.0,294.5 384.0,293.5 379.0,294.0 374.5,293.0 371.0,297.0 368.0,295.0 364.5,291.0 364.5,289.5 370.0,288.0 372.5,285.0Z" fill="#00572f" stroke="#00572f" stroke-width="1" stroke-linejoin="round"/>
<path d="M205.0,357.0 208.0,356.0 211.0,355.0 215.0,358.0 220.0,362.0 223.6,365.0 224.4,370.0 227.0,373.0 228.0,379.0 231.0,381.0 228.0,380.6 223.6,381.0 221.6,385.0 218.0,387.0 213.0,387.0 210.0,388.0 208.0,385.0 205.6,381.0 203.6,377.0 204.0,373.0 205.6,367.0 204.4,362.0Z" fill="#238443" stroke="#238443" stroke-width="1" stroke-linejoin="round"/>
<path d="M391.6,344.0 395.0,344.4 402.0,345.0 406.0,349.0 413.0,348.0 413.6,353.0 415.0,358.0 418.0,359.0 413.6,363.0 412.4,368.0 413.0,374.0 416.0,375.6 410.0,375.0 402.0,374.4 394.0,374.0 390.0,373.6 391.0,368.0 393.6,362.0 394.4,356.0 393.0,350.0Z" fill="#41ab5d" stroke="#41ab5d" stroke-width="1" stroke-linejoin="round"/>
<path d="M199.6,298.0 200.0,299.0 198.0,302.0 199.0,305.0 201.0,302.0 205.0,300.6 210.0,302.0 216.0,301.4 220.0,302.6 223.6,304.0 225.0,307.0 223.0,310.0 223.6,314.0 223.6,318.0 220.0,317.0 216.0,318.0 214.0,321.0 215.0,325.0 211.6,327.0 209.0,324.0 207.6,317.0 207.0,313.0 203.0,312.0 199.0,310.0 196.4,307.0 195.0,304.0 196.0,300.0Z" fill="#41ab5d" stroke="#41ab5d" stroke-width="1" stroke-linejoin="round"/>
<path d="M390.0,373.6 394.0,374.0 402.0,374.4 410.0,375.0 416.0,375.6 411.0,377.0 410.0,383.0 409.0,390.0 408.4,398.0 407.6,404.0 404.0,405.0 400.0,403.0 397.0,396.0 395.0,388.0 392.0,380.0Z" fill="#41ab5d" stroke="#41ab5d" stroke-width="1" stroke-linejoin="round"/>
<path d="M655.7,210.8 657.9,212.5 660.8,213.8 664.2,213.3 666.7,215.4 664.2,216.7 663.3,218.8 660.0,220.0 658.3,218.8 656.2,217.5 656.2,215.0ZM660.0,221.2 662.1,222.5 664.6,225.0 665.4,228.3 667.1,231.7 667.7,235.4 665.8,237.9 663.3,238.3 660.8,240.8 659.2,239.2 657.5,237.9 655.0,237.5 652.9,237.1 650.8,237.5 649.2,239.2 647.1,241.7 646.7,242.9 648.8,241.7 650.8,240.0 653.3,239.2 655.4,239.6 657.1,236.7 657.5,232.9 659.6,230.8 660.8,227.5 660.0,224.2ZM652.9,240.4 655.4,239.8 657.1,240.4 655.0,242.1 653.3,242.5ZM647.1,242.5 649.2,241.2 651.2,242.5 652.1,245.4 651.2,247.7 649.6,246.7 648.3,244.6Z" fill="#006837" stroke="#006837" stroke-width="1" stroke-linejoin="round"/>
<path d="M593.0,270.5 595.0,269.0 599.0,268.0 602.5,269.0 604.5,271.5 606.0,273.5 603.5,275.0 602.5,277.0 604.5,280.0 607.5,283.5 610.5,287.0 612.5,290.5 613.5,294.5 613.0,298.0 610.5,300.5 607.5,302.5 605.0,305.5 603.5,304.0 604.0,301.5 606.0,300.5 608.5,298.0 609.5,295.0 609.0,292.0 608.0,289.5 606.5,287.0 604.0,284.0 601.0,281.0 599.0,278.5 599.5,276.0 597.0,274.5 595.0,272.0Z" fill="#006837" stroke="#006837" stroke-width="1" stroke-linejoin="round"/>
<path d="M637.0,281.0 640.0,280.5 641.8,282.0 642.0,285.5 641.0,289.0 642.5,291.0 645.0,292.0 646.5,293.5 647.0,295.5 649.5,296.5 651.2,298.5 651.5,300.5 650.0,301.2 648.5,299.5 646.5,297.5 644.5,295.5 642.0,294.0 640.0,293.0 638.5,291.0 637.0,288.0 636.5,284.5ZM638.5,294.0 640.5,294.5 641.0,296.5 639.8,296.5ZM642.5,298.5 645.0,299.0 646.5,301.0 647.5,300.0 649.0,300.5 649.5,303.0 648.2,304.0 646.5,305.0 645.0,304.5 644.5,302.0 643.0,300.5ZM643.5,309.0 646.0,307.5 648.5,307.0 650.5,304.5 652.5,304.0 654.0,307.0 654.2,310.0 653.0,313.0 651.5,314.5 649.5,312.5 647.5,310.5 645.5,310.0 644.0,310.8ZM632.2,307.2 634.5,304.0 637.0,300.0 637.8,300.5 635.5,304.5 633.0,307.5Z" fill="#41ab5d" stroke="#41ab5d" stroke-width="1" stroke-linejoin="round"/>
<path d="M479.0,211.0 483.3,210.0 490.0,212.5 496.7,215.0 501.7,215.8 505.0,219.2 510.0,221.7 512.5,222.5 510.8,225.0 506.7,225.8 509.2,229.2 506.7,231.3 503.3,228.3 498.3,225.0 493.3,221.7 485.0,219.0 480.7,221.0 479.7,215.0 479.0,211.0Z" fill="#004529" stroke="#004529" stroke-width="1" stroke-linejoin="round"/>
<path d="M354.0,203.0 357.5,202.0 360.0,201.0 362.5,200.0 365.0,198.5 367.5,196.5 369.5,198.0 372.5,199.0 375.5,200.0 378.0,201.5 377.0,204.5 375.5,207.0 377.0,208.5 377.5,211.0 378.5,213.5 376.0,215.0 373.5,214.8 370.5,215.5 368.5,218.0 365.0,217.0 361.0,216.0 360.5,212.5 360.0,209.5 358.0,206.5 355.5,204.5ZM381.2,217.5 382.7,217.1 383.2,220.0 381.7,220.7Z" fill="#d9f0a3" stroke="#d9f0a3" stroke-width="1" stroke-linejoin="round"/>
<path d="M586.5,277.5 588.5,275.5 590.0,275.0 590.5,276.5 592.0,279.5 593.0,282.0 595.0,282.5 598.0,282.0 599.5,281.5 601.5,284.0 603.5,287.5 603.0,289.5 599.5,291.5 597.5,293.5 597.0,295.5 595.0,296.0 594.0,294.0 592.5,293.5 591.5,296.0 591.2,299.0 590.8,302.0 591.5,305.0 593.5,308.0 595.0,311.0 597.0,312.5 599.5,312.5 597.5,312.0 594.5,312.5 592.5,310.0 590.0,308.0 588.8,305.0 589.0,300.0 589.0,301.0 590.0,300.0 589.5,297.0 588.5,293.0 587.5,289.0 586.5,285.0 585.5,283.0 585.0,280.0Z" fill="#00572f" stroke="#00572f" stroke-width="1" stroke-linejoin="round"/>
<path d="M410.0,194.5 413.0,194.8 417.5,194.5 421.5,195.0 424.0,194.5 427.0,193.5 430.5,194.0 431.0,196.0 435.0,197.5 439.0,199.0 443.0,200.0 443.8,202.5 442.5,204.5 440.5,206.0 437.5,207.0 434.5,208.0 436.5,209.5 437.5,211.0 434.5,212.5 432.5,212.8 431.2,211.0 430.0,209.5 427.0,208.0 424.5,209.0 423.5,207.0 422.0,204.5 420.0,203.5 417.5,203.0 414.0,203.5 411.5,203.8 409.0,203.5 408.0,201.5 409.0,199.0 410.0,197.0Z" fill="#006837" stroke="#006837" stroke-width="1" stroke-linejoin="round"/>
<path d="M418.0,359.0 422.0,358.0 426.0,360.0 430.0,363.0 429.0,357.0 428.0,353.0 430.0,350.0 436.0,352.0 439.0,355.0 438.0,361.0 436.0,365.0 431.0,368.0 427.0,372.0 423.0,375.6 418.0,375.0 413.0,374.0 412.4,368.0 413.6,363.0Z" fill="#41ab5d" stroke="#41ab5d" stroke-width="1" stroke-linejoin="round"/>
<path d="M594.5,312.5 597.5,312.0 599.5,314.5 601.2,318.0 601.8,321.5 603.5,325.0 601.5,325.5 599.0,323.0 596.5,319.5 594.8,316.0 594.0,313.5ZM615.0,324.5 617.0,324.0 620.0,322.5 624.0,320.0 627.0,317.5 629.5,315.0 632.0,311.0 635.0,313.5 637.5,315.0 635.5,316.5 634.0,318.0 631.0,318.5 629.5,320.0 628.5,322.5 626.0,324.0 623.0,325.0 620.5,326.5 618.0,326.5 616.0,326.0Z" fill="#006837" stroke="#006837" stroke-width="1" stroke-linejoin="round"/>
<path d="M434.0,332.0 442.0,331.6 453.0,340.0 454.0,346.0 453.0,350.0 455.6,356.0 450.0,359.0 443.0,358.4 439.0,355.0 436.0,352.0 432.0,349.0 431.0,346.0 431.6,340.0 433.0,336.0Z" fill="#d9f0a3" stroke="#d9f0a3" stroke-width="1" stroke-linejoin="round"/>
<path d="M418.4,247.0 426.0,247.4 433.0,248.6 437.0,248.0 440.0,251.0 438.4,256.0 437.0,253.0 435.6,250.0 438.0,258.0 442.0,265.0 445.6,271.4 419.0,271.4Z" fill="#006837" stroke="#006837" stroke-width="1" stroke-linejoin="round"/>
<path d="M371.0,297.0 374.5,293.0 379.0,294.0 384.0,293.5 390.0,294.5 394.0,293.5 395.5,297.0 396.5,301.0 395.0,304.0 392.0,306.0 390.0,309.5 387.0,312.5 384.0,314.0 384.0,313.0 381.6,317.0 378.0,318.0 374.0,316.0 371.0,313.0 370.0,309.0 370.8,307.0 372.2,302.0Z" fill="#238443" stroke="#238443" stroke-width="1" stroke-linejoin="round"/>
<path d="M377.5,211.0 377.0,208.5 378.0,209.0 381.0,208.5 383.0,208.0 386.0,208.5 389.5,209.5 389.0,211.0 388.5,212.5 390.5,215.0 394.0,218.5 398.0,221.5 401.5,223.5 402.0,225.0 400.0,225.5 399.0,227.5 398.0,230.0 396.5,229.0 397.0,226.5 395.0,224.5 392.0,222.0 389.0,219.0 386.5,216.0 384.0,214.0 381.5,213.0 379.0,214.0ZM380.4,222.1 383.3,221.7 384.2,224.6 383.3,227.3 381.2,227.5 380.7,225.0ZM389.6,230.0 393.3,229.2 396.2,229.6 395.4,232.9 392.5,232.1 390.4,231.5Z" fill="#238443" stroke="#238443" stroke-width="1" stroke-linejoin="round"/>
<path d="M400.0,309.0 404.0,308.0 409.0,305.0 414.0,302.0 417.0,300.6 419.6,304.0 425.0,311.4 428.0,315.0 420.0,316.0 416.0,317.0 410.0,318.0 406.0,317.0 403.0,321.0 401.0,318.0 399.0,313.0Z" fill="#d9f0a3" stroke="#d9f0a3" stroke-width="1" stroke-linejoin="round"/>
<path d="M461.0,389.0 462.4,380.0 464.0,373.0 469.0,369.0 474.0,364.0 476.0,361.0 478.0,365.0 477.6,371.0 475.0,379.0 472.0,387.0 469.0,393.0 465.0,395.6 461.6,394.0Z" fill="#41ab5d" stroke="#41ab5d" stroke-width="1" stroke-linejoin="round"/>
<path d="M344.0,244.0 348.0,239.0 352.0,236.0 359.0,237.4 360.0,244.0 355.0,247.0 352.0,250.0 346.0,252.0 343.6,255.0 339.0,256.6 334.4,256.6 339.0,252.0 342.0,247.0Z" fill="#41ab5d" stroke="#41ab5d" stroke-width="1" stroke-linejoin="round"/>
<path d="M343.3,216.7 345.8,215.4 351.7,215.4 358.3,215.8 363.8,217.5 368.3,218.3 369.6,219.6 365.8,222.1 363.3,225.0 362.1,228.3 360.0,230.8 356.7,232.9 352.9,233.8 350.4,235.0 348.8,232.9 347.5,232.1 347.9,228.3 347.5,225.0 348.8,221.7 348.3,219.6 344.6,218.8Z" fill="#addd8e" stroke="#addd8e" stroke-width="1" stroke-linejoin="round"/>
<path d="M411.0,377.0 416.0,376.0 422.4,376.0 423.6,379.0 425.6,383.0 429.0,386.0 425.0,390.0 421.0,395.0 417.0,397.0 413.0,396.4 410.0,399.6 408.4,398.0 409.0,390.0 410.0,383.0Z" fill="#006837" stroke="#006837" stroke-width="1" stroke-linejoin="round"/>
<path d="M395.5,297.5 398.0,301.0 397.5,305.0 399.0,308.0 400.0,309.0 399.0,313.0 401.0,318.0 402.0,323.0 396.0,323.4 390.0,323.0 386.0,323.0 385.6,319.0 384.0,316.0 387.0,314.0 387.0,312.5 390.0,309.5 392.0,306.0 395.0,304.0 396.5,301.0Z" fill="#238443" stroke="#238443" stroke-width="1" stroke-linejoin="round"/>
<path d="M396.0,323.4 402.0,323.0 403.0,321.0 406.0,317.4 407.0,323.0 404.0,329.0 401.0,335.0 398.0,340.0 393.0,342.0 390.0,341.0 389.6,338.0 395.0,336.0 397.0,331.0 396.0,327.0Z" fill="#238443" stroke="#238443" stroke-width="1" stroke-linejoin="round"/>
<path d="M442.0,320.0 445.6,315.6 450.0,318.4 458.0,319.0 457.0,325.0 459.0,332.0 456.0,336.0 453.0,340.0 442.0,331.6 443.0,326.0Z" fill="#006837" stroke="#006837" stroke-width="1" stroke-linejoin="round"/>
<path d="M223.6,381.0 228.0,380.0 231.0,381.0 233.0,386.0 237.0,389.0 241.0,393.0 240.0,398.0 237.0,401.0 233.0,400.0 232.4,396.0 228.0,393.0 224.0,390.0 221.6,385.0Z" fill="#00572f" stroke="#00572f" stroke-width="1" stroke-linejoin="round"/>
<path d="M591.2,273.5 593.0,270.5 595.0,272.0 597.0,274.5 599.5,276.0 599.0,278.5 601.0,281.0 604.0,284.0 606.5,287.0 608.0,289.5 606.0,291.5 604.5,289.5 603.5,287.5 601.5,284.0 599.5,281.5 598.0,282.0 595.0,282.5 593.0,282.0 592.0,279.5 590.5,276.5 590.0,275.0Z" fill="#238443" stroke="#238443" stroke-width="1" stroke-linejoin="round"/>
<path d="M375.8,189.5 378.0,188.0 380.5,187.0 381.5,188.5 385.0,188.0 389.0,189.0 390.5,191.5 391.2,194.5 392.0,197.0 388.5,198.5 388.0,200.0 389.5,202.5 388.5,204.5 385.0,204.5 382.0,205.5 379.0,204.5 378.0,201.5 375.5,200.0 375.2,197.5 375.0,195.0 375.8,192.5Z" fill="#41ab5d" stroke="#41ab5d" stroke-width="1" stroke-linejoin="round"/>
<path d="M351.5,179.5 354.0,177.5 357.5,177.8 356.5,180.0 359.0,180.5 358.5,183.0 360.5,185.0 362.5,188.5 365.0,191.5 366.2,194.0 365.0,196.0 361.5,196.5 358.0,197.0 354.5,198.0 351.5,198.5 353.5,196.5 355.0,195.0 353.0,194.0 353.5,191.5 355.5,190.5 354.0,188.5 355.0,186.0 353.0,185.0 352.5,182.5Z" fill="#41ab5d" stroke="#41ab5d" stroke-width="1" stroke-linejoin="round"/>
<path d="M422.4,376.0 427.0,372.0 431.0,369.0 435.0,371.0 438.0,374.0 438.4,379.0 436.0,384.0 433.0,387.6 429.0,386.0 425.6,383.0 423.6,379.0Z" fill="#004529" stroke="#004529" stroke-width="1" stroke-linejoin="round"/>
<path d="M352.0,298.0 355.0,294.5 358.0,292.0 361.0,289.5 364.0,291.0 368.0,295.0 369.0,297.0 366.5,299.0 363.0,300.5 358.0,300.0 355.0,301.0 354.0,303.0 351.0,302.0 350.0,302.0Z" fill="#238443" stroke="#238443" stroke-width="1" stroke-linejoin="round"/>
<path d="M405.8,224.6 406.8,223.3 408.3,222.3 410.8,221.8 412.5,221.5 415.4,221.2 418.3,220.7 419.3,221.8 416.7,222.7 414.2,222.9 412.9,224.3 413.8,226.2 414.6,228.3 414.2,230.4 412.9,231.7 412.3,233.8 410.4,232.7 409.2,230.4 407.5,227.5 406.2,225.8ZM414.0,236.0 416.7,236.2 419.6,236.7 419.6,237.7 416.7,237.7 414.2,237.1Z" fill="#006837" stroke="#006837" stroke-width="1" stroke-linejoin="round"/>
<path d="M177.0,328.0 180.0,326.0 185.0,326.6 189.6,330.0 188.0,334.0 184.0,336.0 182.4,340.0 180.0,341.4 177.6,337.4 176.0,333.0Z" fill="#00572f" stroke="#00572f" stroke-width="1" stroke-linejoin="round"/>
<path d="M511.7,219.2 515.8,216.7 523.3,216.3 531.3,217.5 528.7,221.3 523.7,223.0 523.0,225.3 519.2,225.3 514.2,225.8 513.3,223.3 516.7,222.5 512.5,222.5 510.0,221.7Z" fill="#78c679" stroke="#78c679" stroke-width="1" stroke-linejoin="round"/>
<path d="M406.2,206.7 410.0,204.6 416.7,203.8 420.4,205.4 421.7,207.5 422.5,210.0 422.9,211.2 421.7,213.3 418.8,214.6 414.2,215.0 411.5,215.8 410.0,214.6 407.9,212.5 406.2,209.6Z" fill="#41ab5d" stroke="#41ab5d" stroke-width="1" stroke-linejoin="round"/>
<path d="M409.5,190.5 412.5,187.5 415.0,185.0 416.0,183.8 419.0,184.5 422.0,185.5 423.5,188.5 426.5,190.8 424.5,192.0 424.0,194.5 421.5,195.0 417.5,194.5 413.0,194.8 410.0,194.5 409.2,192.5Z" fill="#238443" stroke="#238443" stroke-width="1" stroke-linejoin="round"/>
<path d="M171.5,271.5 174.0,270.0 177.0,268.8 180.0,269.5 184.0,271.0 188.0,273.5 192.0,275.0 194.5,276.0 192.0,277.0 189.0,277.0 186.5,275.0 183.0,273.0 179.0,271.8 175.0,271.5 172.5,272.2Z" fill="#238443" stroke="#238443" stroke-width="1" stroke-linejoin="round"/>
<path d="M344.0,301.0 347.0,302.0 350.0,302.0 351.0,303.0 354.0,303.0 355.5,305.0 356.0,309.0 355.5,313.0 355.2,316.0 350.0,316.2 345.0,315.5 344.5,311.0 344.0,308.0 344.5,304.5Z" fill="#006837" stroke="#006837" stroke-width="1" stroke-linejoin="round"/>
<path d="M329.0,300.5 331.5,297.0 334.0,296.5 336.5,297.0 340.0,297.0 343.0,298.0 344.0,301.0 344.5,304.0 343.5,307.5 342.0,306.0 340.0,304.0 338.5,303.0 336.0,302.5 333.5,303.0 332.0,305.0 330.0,302.0Z" fill="#00572f" stroke="#00572f" stroke-width="1" stroke-linejoin="round"/>
<path d="M380.8,232.1 384.2,231.2 386.7,232.5 385.4,235.8 387.1,240.0 388.3,242.9 385.8,245.8 384.2,249.2 382.9,246.7 381.2,244.2 379.6,240.8 380.4,236.7Z" fill="#addd8e" stroke="#addd8e" stroke-width="1" stroke-linejoin="round"/>
<path d="M237.0,408.0 239.0,409.0 244.0,411.0 247.6,413.0 246.4,417.0 244.0,419.6 240.0,420.0 236.0,418.0 235.0,413.0 235.6,409.0Z" fill="#41ab5d" stroke="#41ab5d" stroke-width="1" stroke-linejoin="round"/>
<path d="M356.0,301.0 358.0,300.2 363.0,300.5 364.0,305.0 364.5,309.5 364.0,314.0 360.0,315.8 355.2,316.0 356.0,309.0 355.8,305.0Z" fill="#41ab5d" stroke="#41ab5d" stroke-width="1" stroke-linejoin="round"/>
<path d="M223.6,307.0 227.0,308.6 229.0,312.0 230.0,316.0 231.0,321.0 228.0,324.0 225.0,322.0 223.6,318.0 223.6,314.0 223.0,310.0Z" fill="#238443" stroke="#238443" stroke-width="1" stroke-linejoin="round"/>
<path d="M323.0,290.5 324.5,288.0 326.5,286.0 330.0,286.0 333.0,288.0 335.5,289.5 336.5,295.0 334.0,296.0 330.0,295.5 326.0,296.0 324.5,295.0 331.0,294.0 330.5,292.8 324.5,293.5Z" fill="#006837" stroke="#006837" stroke-width="1" stroke-linejoin="round"/>
<path d="M597.5,293.5 599.5,291.5 603.0,291.0 606.0,291.5 608.0,292.5 609.0,295.0 608.5,298.0 606.0,299.5 604.0,301.5 601.5,300.5 599.0,299.0 597.5,296.5 597.0,295.5Z" fill="#006837" stroke="#006837" stroke-width="1" stroke-linejoin="round"/>
<path d="M509.2,229.2 506.7,225.8 510.8,225.0 514.2,225.8 519.2,225.0 523.0,225.3 523.7,228.3 523.7,231.7 520.0,232.0 516.7,230.8 513.3,230.0 510.8,232.0 508.3,231.7Z" fill="#006837" stroke="#006837" stroke-width="1" stroke-linejoin="round"/>
<path d="M391.2,209.2 395.0,208.3 399.2,208.8 402.9,209.2 402.5,211.2 399.6,211.2 395.8,211.7 397.5,213.8 400.0,215.8 402.1,217.5 400.0,216.8 397.5,215.0 395.4,212.9 394.2,210.8 392.1,210.4Z" fill="#78c679" stroke="#78c679" stroke-width="1" stroke-linejoin="round"/>
<path d="M560.8,260.8 564.2,260.0 567.5,261.7 569.2,264.2 569.7,268.3 568.3,271.7 565.8,269.2 564.2,271.7 562.5,268.3 561.3,265.0Z" fill="#41ab5d" stroke="#41ab5d" stroke-width="1" stroke-linejoin="round"/>
<path d="M366.0,300.5 369.0,297.0 371.0,298.0 372.0,302.0 370.5,307.0 369.5,314.0 366.8,314.0 366.8,307.0Z" fill="#41ab5d" stroke="#41ab5d" stroke-width="1" stroke-linejoin="round"/>
<path d="M447.0,216.0 449.5,215.5 453.0,217.0 457.0,218.0 460.0,219.5 462.0,221.0 459.0,222.0 456.0,221.5 453.5,219.8 450.5,218.5 448.0,217.5Z" fill="#006837" stroke="#006837" stroke-width="1" stroke-linejoin="round"/>
<path d="M163.5,294.5 165.0,294.0 167.5,291.5 170.0,290.0 172.5,289.5 172.0,293.0 171.5,296.5 170.5,299.5 168.0,300.0 166.2,298.5 164.5,296.5Z" fill="#41ab5d" stroke="#41ab5d" stroke-width="1" stroke-linejoin="round"/>
<path d="M402.9,209.2 405.8,208.8 407.9,212.5 410.0,214.6 411.5,215.8 410.8,218.3 410.0,219.2 408.2,219.2 407.9,217.3 406.2,216.5 405.0,217.1 404.6,215.0 403.8,212.9 402.5,211.2Z" fill="#238443" stroke="#238443" stroke-width="1" stroke-linejoin="round"/>
<path d="M336.5,308.5 339.0,306.5 340.0,304.5 342.5,307.0 344.0,309.5 344.5,313.0 345.0,315.5 342.0,314.0 339.0,311.0Z" fill="#78c679" stroke="#78c679" stroke-width="1" stroke-linejoin="round"/>
<path d="M634.6,230.0 637.5,228.8 640.0,230.0 642.1,232.9 643.8,235.8 642.9,237.9 640.4,238.8 638.3,237.9 637.1,235.0 635.4,232.1Z" fill="#238443" stroke="#238443" stroke-width="1" stroke-linejoin="round"/>
<path d="M159.5,289.5 161.5,287.8 165.0,287.5 169.0,287.2 172.0,289.0 170.0,290.0 167.5,291.5 165.0,294.0 163.5,294.5 162.5,292.8 160.0,291.8Z" fill="#78c679" stroke="#78c679" stroke-width="1" stroke-linejoin="round"/>
<path d="M152.5,288.5 155.0,284.0 158.0,282.5 160.5,282.5 160.5,286.5 161.5,287.5 159.5,289.5 158.0,291.5 156.0,292.5 153.5,291.0Z" fill="#238443" stroke="#238443" stroke-width="1" stroke-linejoin="round"/>
<path d="M343.3,218.8 344.6,218.8 348.3,219.6 348.8,221.7 347.5,225.0 347.9,228.3 347.5,232.1 344.2,232.5 343.8,229.2 342.5,227.1 343.3,223.3Z" fill="#addd8e" stroke="#addd8e" stroke-width="1" stroke-linejoin="round"/>
<path d="M411.5,215.8 413.8,215.0 418.8,214.6 421.7,214.0 422.1,215.8 420.8,217.3 421.7,219.2 418.8,220.8 415.4,221.2 412.5,221.5 411.5,220.4 410.8,218.3Z" fill="#00572f" stroke="#00572f" stroke-width="1" stroke-linejoin="round"/>
<path d="M2.7,271.0 4.7,271.7 6.0,273.3 4.0,273.7ZM6.7,274.0 8.7,274.3 9.0,276.0 7.3,276.0ZM9.3,276.0 11.7,276.7 12.3,279.0 10.0,279.7 9.0,277.7Z" fill="#78c679" stroke="#78c679" stroke-width="1" stroke-linejoin="round"/>
<path d="M439.0,355.0 441.0,357.0 441.6,362.0 444.0,367.0 443.6,371.0 441.6,370.0 440.4,366.0 439.0,362.0Z" fill="#006837" stroke="#006837" stroke-width="1" stroke-linejoin="round"/>
<path d="M460.0,223.0 463.3,221.7 465.7,220.3 466.7,221.7 469.3,223.3 468.0,224.7 467.7,228.3 466.3,227.7 466.0,225.7 464.3,226.0 462.7,225.0 461.3,224.3Z" fill="#41ab5d" stroke="#41ab5d" stroke-width="1" stroke-linejoin="round"/>
<path d="M343.2,194.5 344.5,189.5 347.0,187.0 350.0,186.0 351.5,187.5 351.0,191.0 349.0,193.5 345.5,194.8Z" fill="#41ab5d" stroke="#41ab5d" stroke-width="1" stroke-linejoin="round"/>
<path d="M173.5,304.5 175.0,306.5 177.0,307.5 179.0,305.5 181.5,304.5 184.0,305.5 185.0,308.0 184.0,310.0 183.0,308.0 181.0,306.5 179.5,307.5 178.5,309.5 176.5,309.0 174.5,308.0 172.5,306.2Z" fill="#238443" stroke="#238443" stroke-width="1" stroke-linejoin="round"/>
<path d="M230.0,315.0 234.0,314.0 237.6,314.6 237.0,319.0 236.0,322.6 233.0,323.0 231.0,321.0 230.0,316.0Z" fill="#238443" stroke="#238443" stroke-width="1" stroke-linejoin="round"/>
<path d="M388.0,198.5 392.0,197.0 396.0,198.0 399.5,199.5 398.5,201.5 395.0,202.0 392.0,202.5 389.5,202.5 388.0,200.0Z" fill="#78c679" stroke="#78c679" stroke-width="1" stroke-linejoin="round"/>
<path d="M382.0,205.5 385.0,204.5 388.5,204.5 391.0,205.5 394.0,207.0 393.0,209.0 389.5,209.5 386.0,208.5 383.0,208.0 383.0,207.0Z" fill="#238443" stroke="#238443" stroke-width="1" stroke-linejoin="round"/>
<path d="M403.2,181.0 405.0,180.0 407.5,180.0 408.5,179.5 411.5,180.2 414.0,179.8 415.5,181.5 416.0,183.8 413.5,184.0 410.5,183.2 407.5,182.8 405.0,183.8 403.5,183.0Z" fill="#41ab5d" stroke="#41ab5d" stroke-width="1" stroke-linejoin="round"/>
<path d="M395.8,211.7 399.6,211.2 402.9,211.7 404.3,214.6 403.5,216.2 402.1,217.5 400.0,215.8 397.5,213.8Z" fill="#238443" stroke="#238443" stroke-width="1" stroke-linejoin="round"/>
<path d="M546.9,304.0 549.2,304.8 551.5,308.6 550.8,312.5 548.5,313.2 546.9,310.2 546.2,306.3Z" fill="#00572f" stroke="#00572f" stroke-width="1" stroke-linejoin="round"/>
<path d="M766.0,375.0 769.3,374.0 770.0,376.0 767.0,377.3ZM770.0,371.7 773.3,370.7 773.3,372.3Z" fill="#d9f0a3" stroke="#d9f0a3" stroke-width="1" stroke-linejoin="round"/>
<path d="M166.2,299.8 168.5,300.2 170.5,299.8 172.0,302.0 173.5,304.5 172.0,306.0 170.0,304.5 168.0,302.5Z" fill="#41ab5d" stroke="#41ab5d" stroke-width="1" stroke-linejoin="round"/>
<path d="M417.5,203.3 420.8,204.2 422.9,206.7 424.2,209.6 422.5,210.0 421.7,207.5 420.4,205.4Z" fill="#238443" stroke="#238443" stroke-width="1" stroke-linejoin="round"/>
<path d="M406.5,176.5 409.5,175.2 414.5,175.5 415.0,177.5 414.0,179.8 411.5,180.2 408.5,179.5 406.8,178.0Z" fill="#41ab5d" stroke="#41ab5d" stroke-width="1" stroke-linejoin="round"/>
<path d="M200.5,277.8 204.0,277.2 206.5,279.0 208.0,280.0 205.0,281.0 202.5,281.8 201.0,282.5 200.5,279.0Z" fill="#78c679" stroke="#78c679" stroke-width="1" stroke-linejoin="round"/>
<path d="M363.5,301.0 365.5,301.0 366.5,307.0 366.5,314.0 364.5,314.2 364.5,308.0Z" fill="#41ab5d" stroke="#41ab5d" stroke-width="1" stroke-linejoin="round"/>
<path d="M194.0,280.5 197.5,280.0 197.0,278.2 199.0,277.5 200.5,279.0 201.0,282.5 198.0,281.5 196.0,282.0Z" fill="#238443" stroke="#238443" stroke-width="1" stroke-linejoin="round"/>
<path d="M375.5,207.0 377.0,205.0 379.5,204.5 382.0,205.5 383.0,207.0 381.0,208.5 378.0,209.0 377.0,208.5Z" fill="#238443" stroke="#238443" stroke-width="1" stroke-linejoin="round"/>
<path d="M332.5,305.0 334.0,303.0 336.5,302.8 338.5,303.5 338.5,306.0 336.5,308.0 334.0,307.5Z" fill="#41ab5d" stroke="#41ab5d" stroke-width="1" stroke-linejoin="round"/>
<path d="M430.0,332.4 433.6,332.0 433.6,340.0 431.0,340.4 430.0,336.0Z" fill="#41ab5d" stroke="#41ab5d" stroke-width="1" stroke-linejoin="round"/>
<path d="M368.0,196.5 370.5,195.5 373.5,195.8 375.2,197.5 374.5,199.5 372.5,199.0 369.5,198.0Z" fill="#006837" stroke="#006837" stroke-width="1" stroke-linejoin="round"/>
<path d="M423.6,405.6 426.4,404.0 428.0,406.4 425.6,409.0 423.0,408.0Z" fill="#78c679" stroke="#78c679" stroke-width="1" stroke-linejoin="round"/>
<path d="M457.3,222.7 460.0,223.0 461.3,224.3 462.7,225.0 462.3,226.7 461.0,226.3 459.3,225.3 458.0,224.3Z" fill="#006837" stroke="#006837" stroke-width="1" stroke-linejoin="round"/>
<path d="M325.0,297.0 329.0,296.5 331.5,297.0 330.5,299.0 327.0,299.5Z" fill="#f7fcb9" stroke="#f7fcb9" stroke-width="1" stroke-linejoin="round"/>
<path d="M403.8,218.3 405.0,219.2 405.8,218.3 406.8,219.6 406.8,221.5 406.8,223.3 405.8,224.6 404.8,223.3 404.0,220.8Z" fill="#00572f" stroke="#00572f" stroke-width="1" stroke-linejoin="round"/>
<path d="M157.5,292.5 159.5,291.5 162.5,292.8 163.2,294.5 160.0,294.5Z" fill="#78c679" stroke="#78c679" stroke-width="1" stroke-linejoin="round"/>
<path d="M406.8,219.6 410.0,219.2 411.5,220.4 410.8,221.8 408.3,222.3 406.8,221.5Z" fill="#41ab5d" stroke="#41ab5d" stroke-width="1" stroke-linejoin="round"/>
<path d="M160.5,280.5 162.5,280.5 162.8,283.0 161.8,286.5 160.5,286.5Z" fill="#006837" stroke="#006837" stroke-width="1" stroke-linejoin="round"/>
<path d="M324.5,293.5 330.5,292.8 331.0,294.0 324.5,294.8Z" fill="#addd8e" stroke="#addd8e" stroke-width="1" stroke-linejoin="round"/>
<path d="M391.2,207.5 394.2,207.1 395.8,207.9 395.0,208.8 391.7,209.3Z" fill="#41ab5d" stroke="#41ab5d" stroke-width="1" stroke-linejoin="round"/>
<path d="M440.4,238.8 442.1,238.3 441.5,241.7 440.0,242.9Z" fill="#41ab5d" stroke="#41ab5d" stroke-width="1" stroke-linejoin="round"/>
<path d="M185.0,281.0 187.5,280.5 189.5,281.5 189.0,282.5 186.0,282.5Z" fill="#238443" stroke="#238443" stroke-width="1" stroke-linejoin="round"/>
<path d="M403.5,216.2 405.0,215.8 405.8,216.8 405.8,218.3 405.0,219.2 403.8,218.3Z" fill="#00572f" stroke="#00572f" stroke-width="1" stroke-linejoin="round"/>
<path d="M492.8,381.0 494.0,380.8 494.2,382.2 493.0,382.4Z" fill="#41ab5d" stroke="#41ab5d" stroke-width="1" stroke-linejoin="round"/>
<path d="M128.0,152.0 135.0,153.0 143.8,152.0 152.5,150.5 160.0,152.0 163.8,155.0 170.0,156.2 166.5,152.1 168.1,155.4 176.4,155.4 184.6,154.6 192.8,155.4 197.8,153.8 202.7,151.3 206.8,148.0 210.1,149.7 211.8,152.9 214.3,155.4 217.5,157.1 215.9,159.5 212.6,161.2 207.7,163.7 201.1,167.0 194.5,170.2 189.5,173.5 187.1,176.8 188.7,181.0 194.5,181.8 199.4,184.3 203.0,186.7 202.7,192.5 205.2,195.0 208.0,192.5 209.0,187.5 213.4,185.1 217.5,181.0 218.4,176.0 220.8,171.1 223.3,168.6 229.1,168.6 234.0,171.1 235.7,176.8 239.8,177.7 243.1,173.5 245.6,174.4 247.2,180.1 250.5,185.1 253.8,190.8 253.8,192.5 252.5,196.2 247.5,195.0 245.0,197.5 238.8,199.5 232.5,201.2 227.5,203.8 233.8,202.5 238.8,203.8 239.5,207.5 236.2,209.5 231.2,211.2 226.2,215.0 225.0,211.2 226.2,208.0 223.2,206.2 222.5,207.0 220.0,210.0 215.0,212.5 207.5,214.5 200.0,216.2 193.8,218.8 190.0,219.5 192.0,215.0 191.2,210.0 187.5,206.2 181.2,203.8 172.5,201.2 172.5,201.2 113.8,201.2 109.5,197.5 112.5,190.0 113.8,186.2 113.8,183.8 112.5,178.8 110.0,175.0 106.2,172.0ZM245.0,200.0 250.0,196.2 253.8,198.8 255.5,203.8 255.0,207.0 251.2,205.0 247.5,204.5 243.8,203.8ZM216.7,147.2 222.5,144.7 229.1,143.9 235.7,144.7 242.3,147.2 248.8,150.5 251.3,155.4 256.3,158.7 250.5,162.0 247.2,161.2 248.0,165.3 243.9,169.4 239.8,167.8 237.3,164.5 232.4,164.5 225.8,164.2 225.0,162.0 230.7,161.2 235.7,159.5 239.0,157.1 238.1,153.8 233.2,152.1 227.4,151.3 222.5,153.8 220.0,152.1 216.7,149.7ZM225.0,131.5 230.7,129.6 237.3,127.4 248.8,126.3 263.7,125.8 277.7,126.6 268.6,129.1 258.7,131.5 252.1,133.2 247.2,135.7 245.6,138.1 239.8,137.3 232.4,137.3 227.4,136.5 230.7,134.0 225.8,133.2ZM219.2,138.1 225.8,137.3 234.0,138.5 239.8,139.8 239.0,141.7 232.4,142.2 224.1,141.7 220.0,140.1ZM167.8,148.8 172.2,147.2 178.8,146.4 186.2,145.5 193.7,144.7 196.1,147.2 193.7,150.5 194.5,152.9 188.7,154.6 179.7,154.6 173.1,154.9 167.3,155.9 168.9,152.9 170.6,150.5ZM159.1,147.2 164.8,143.9 173.1,142.2 180.5,143.1 178.8,145.5 171.4,147.2 166.5,148.8 161.5,149.7ZM175.5,137.3 182.9,135.7 189.5,135.2 187.1,137.3 191.2,138.1 199.4,137.3 201.1,139.8 194.5,141.4 187.9,142.2 183.8,140.6 179.7,138.9ZM198.6,146.4 202.7,143.9 208.5,143.1 207.7,146.4 203.5,148.0 200.2,148.8ZM206.0,138.1 211.8,137.3 215.1,139.4 211.0,141.1 206.8,140.1ZM208.5,133.2 214.3,132.4 215.9,134.5 211.0,134.8ZM208.5,165.3 213.4,161.2 217.5,163.2 220.8,165.3 215.9,166.5 211.0,167.0ZM106.2,197.0 111.2,200.5 113.8,203.8 110.0,202.5 107.0,199.5ZM103.8,188.8 105.8,190.0 105.0,193.8 103.5,192.5Z" fill="none" stroke="#5f7a66" stroke-width="0.4" stroke-linejoin="round"/>
<path d="M540.0,201.2 546.2,198.8 552.5,197.5 558.0,194.2 565.0,196.2 572.5,198.8 580.0,200.0 586.2,201.2 593.8,200.0 600.0,198.8 599.5,193.8 602.5,191.2 608.3,192.5 615.0,196.7 621.7,200.0 628.3,203.3 633.7,203.3 637.5,206.7 636.7,211.7 634.2,214.2 635.8,217.5 631.7,220.8 628.3,223.3 625.8,225.8 623.3,227.5 620.8,224.2 619.2,223.3 616.7,225.8 615.0,228.3 618.3,230.8 622.5,230.0 626.3,231.7 623.3,235.0 625.8,239.2 630.0,244.2 632.5,248.3 633.7,253.3 632.5,258.3 630.8,263.3 627.5,267.5 623.3,270.0 619.2,272.0 615.0,273.0 613.5,273.5 612.8,276.5 611.8,276.0 611.5,273.5 609.0,273.0 606.0,273.5 604.5,271.5 602.5,269.0 599.0,268.0 595.0,269.0 593.0,270.5 591.2,273.5 589.0,271.5 586.5,268.0 583.5,264.0 584.0,259.5 583.0,256.0 580.0,256.0 576.7,252.5 571.7,253.3 568.3,255.0 565.0,255.8 562.0,256.7 560.0,257.5 553.3,255.8 546.7,253.0 541.7,250.0 539.2,247.5 535.8,243.3 534.2,238.3 530.8,237.5 529.2,235.0 523.3,230.8 522.5,227.5 523.3,222.5 528.3,220.8 530.8,218.0 530.0,213.3 533.3,208.3 536.7,205.0ZM609.5,278.0 611.5,277.0 614.0,277.5 614.2,279.5 612.5,281.2 610.2,280.8Z" fill="none" stroke="#5f7a66" stroke-width="0.4" stroke-linejoin="round"/>
<path d="M215.0,325.0 214.0,321.0 216.0,318.0 220.0,317.0 223.6,318.0 225.0,322.0 228.0,324.0 231.0,321.0 233.0,323.0 236.0,322.6 239.0,323.0 241.0,322.6 243.6,318.0 245.0,319.4 247.0,325.0 248.0,328.0 254.0,330.0 260.0,333.0 268.0,335.4 275.0,338.0 280.0,342.0 282.4,346.0 282.4,350.0 280.0,355.0 276.0,361.0 274.0,366.0 274.0,373.0 273.0,379.0 271.0,384.0 268.0,387.0 262.0,389.0 258.0,392.0 255.6,396.0 254.0,401.0 253.0,405.0 250.0,410.0 247.6,413.0 244.0,411.0 239.0,409.0 237.0,408.0 239.0,405.0 241.6,401.0 242.4,397.0 241.0,393.0 237.0,389.0 233.0,386.0 231.0,381.0 228.0,379.0 227.0,373.0 224.4,370.0 223.6,365.0 220.0,362.0 215.0,358.0 211.0,355.0 208.0,356.0 205.0,357.0 200.0,354.0 196.0,353.0 194.0,349.0 195.6,344.0 199.0,342.0 201.0,339.0 203.0,335.0 202.4,330.0 203.0,325.0 207.0,322.0 209.0,324.0 211.6,327.0Z" fill="none" stroke="#5f7a66" stroke-width="0.4" stroke-linejoin="round"/>
<path d="M113.8,201.2 172.5,201.2 172.5,201.2 181.2,203.8 187.5,206.2 191.2,210.0 192.0,215.0 190.0,219.5 193.8,218.8 200.0,216.2 207.5,214.5 215.0,212.5 220.0,210.0 222.5,207.0 221.2,211.2 216.2,216.2 212.5,218.8 207.5,221.2 203.8,223.8 200.0,227.5 198.8,231.2 200.0,233.8 196.2,238.8 191.2,243.8 187.5,247.5 183.8,250.0 183.0,253.8 183.8,258.8 183.0,263.0 180.8,262.5 178.8,256.2 177.5,251.2 172.5,250.0 166.2,250.8 161.2,252.0 155.0,253.8 150.0,257.0 146.2,260.0 144.5,263.8 143.8,257.5 140.0,252.5 135.0,253.0 130.0,250.0 125.0,247.0 115.0,245.5 106.2,243.8 105.0,242.5 100.5,236.2 99.0,228.8 100.5,221.2 104.5,212.5 109.5,205.0Z" fill="none" stroke="#5f7a66" stroke-width="0.4" stroke-linejoin="round"/>
<path d="M582.2,315.2 587.5,315.0 591.0,319.0 595.0,323.5 599.0,325.5 602.0,328.5 603.5,333.0 607.0,336.5 607.5,340.0 606.5,344.0 604.5,344.5 601.0,341.5 597.5,337.5 594.5,332.5 591.5,327.0 588.0,321.5 584.5,317.5ZM606.0,345.5 609.0,344.5 613.0,345.5 618.0,346.2 622.0,348.0 626.0,349.0 628.5,350.0 627.5,351.5 623.0,351.0 618.0,349.5 613.0,348.5 608.5,347.5ZM631.5,351.5 635.0,350.5 636.5,351.2 633.0,352.5ZM638.5,351.2 643.0,350.5 645.5,350.5 644.0,351.8 640.0,352.0ZM636.5,354.0 639.0,354.5 640.0,355.8 637.5,355.0ZM646.5,355.0 649.5,352.5 652.0,351.5 651.0,353.5 648.0,355.5ZM615.0,324.5 616.0,326.0 618.0,326.5 620.5,326.5 623.0,325.0 626.0,324.0 628.5,322.5 629.5,320.0 631.0,318.5 634.0,318.0 634.5,321.5 635.5,325.0 636.5,326.5 634.5,327.5 633.0,331.0 632.0,335.0 630.5,339.0 627.0,338.5 624.0,337.5 620.5,337.0 617.5,336.0 617.0,333.0 615.0,330.0 614.5,327.0ZM640.0,327.5 643.0,326.2 647.0,326.2 651.5,325.0 651.0,327.0 647.5,328.0 644.0,329.0 641.8,330.0 643.0,332.0 647.0,331.0 646.0,332.5 643.5,334.0 645.0,336.5 646.5,340.0 646.2,343.0 644.5,342.5 643.0,339.0 641.5,336.0 640.5,339.0 640.5,343.0 638.5,343.0 638.0,339.0 637.5,336.0 638.5,332.0 639.0,329.5ZM657.2,324.0 659.0,324.2 659.8,327.0 659.0,329.5 658.0,331.5 657.2,329.0 656.8,326.0ZM654.2,337.5 657.5,337.0 657.5,338.3 654.5,338.7ZM659.2,336.7 663.3,337.2 664.2,338.7 660.0,338.3ZM665.0,331.7 669.2,330.3 673.3,332.5 676.7,335.0 680.8,333.3 685.0,334.2 688.0,335.8 688.0,352.5 685.0,351.7 682.5,348.3 680.0,347.5 677.5,344.2 675.0,340.0 671.7,336.7 668.3,335.8 665.8,334.2ZM671.7,343.3 673.7,344.2 673.3,346.7 671.7,345.8Z" fill="none" stroke="#5f7a66" stroke-width="0.4" stroke-linejoin="round"/>
<path d="M525.8,239.2 530.8,237.5 534.2,238.3 535.8,243.3 539.2,247.5 541.7,250.0 546.7,253.0 553.3,255.8 560.0,257.5 560.8,256.7 562.0,256.7 563.3,259.2 567.5,258.7 568.3,256.7 568.3,255.0 571.7,253.3 576.7,252.5 579.2,255.8 576.7,259.2 575.0,263.3 572.5,266.7 570.8,264.2 569.2,261.7 568.0,265.0 567.5,261.7 564.2,260.0 560.8,260.8 561.3,265.0 562.5,268.3 560.0,271.7 555.8,279.2 550.0,285.8 546.7,290.8 545.8,296.7 544.6,302.5 541.6,307.9 539.3,304.8 535.4,297.9 530.8,287.1 527.8,279.5 523.2,274.9 527.5,274.2 523.3,273.3 520.0,270.8 520.8,267.5 522.5,265.8 520.0,263.3 519.2,259.2 522.5,255.0 525.0,250.0 527.0,245.8 525.8,242.5Z" fill="none" stroke="#5f7a66" stroke-width="0.4" stroke-linejoin="round"/>
<path d="M128.0,152.0 118.8,150.0 109.5,148.2 102.5,150.0 96.2,151.2 88.0,153.0 83.0,154.2 81.2,157.5 83.8,160.0 77.5,160.5 71.2,162.0 70.8,163.8 76.2,164.5 80.0,165.0 75.0,167.0 67.5,168.8 61.2,172.0 60.0,175.5 63.8,177.0 70.0,175.5 76.2,173.8 80.0,173.0 74.5,176.2 68.8,178.8 60.0,182.0 51.2,185.5 43.8,188.0 45.0,186.5 53.8,183.0 62.5,179.5 71.2,180.0 77.5,177.0 83.8,175.8 90.0,173.8 96.2,172.5 102.5,173.0 105.8,175.0 109.5,178.8 110.5,183.0 112.5,186.2 113.8,183.8 112.5,178.8 110.0,175.0 106.2,172.0Z" fill="none" stroke="#5f7a66" stroke-width="0.4" stroke-linejoin="round"/>
<path d="M203.6,377.0 205.6,381.0 208.0,385.0 210.0,388.0 209.0,392.0 209.0,398.0 208.0,404.0 209.0,410.0 210.0,416.0 211.0,422.0 211.6,428.0 212.4,434.0 213.6,440.0 215.0,446.0 216.0,452.0 217.0,458.0 220.0,463.0 224.0,464.0 226.0,468.0 230.0,470.0 235.0,473.0 233.0,473.0 228.0,471.6 222.0,469.0 217.0,465.0 213.0,460.0 210.0,454.0 208.0,450.0 209.0,444.0 207.0,438.0 205.6,430.0 204.4,422.0 205.0,414.0 205.6,406.0 206.0,398.0 205.6,390.0 204.4,383.0Z" fill="none" stroke="#5f7a66" stroke-width="0.4" stroke-linejoin="round"/>
<path d="M457.6,200.0 459.0,197.0 463.0,195.0 468.0,196.0 475.0,195.6 482.0,194.0 483.0,190.0 490.0,188.0 497.0,186.0 504.0,189.0 509.0,188.0 514.0,190.0 520.0,194.0 526.0,197.0 530.0,196.2 536.2,200.0 540.0,201.2 536.7,205.0 533.3,208.3 530.0,213.3 530.8,217.5 523.3,216.3 515.8,216.7 511.7,219.2 510.0,221.7 505.0,219.2 501.7,215.8 496.7,215.0 490.0,212.5 483.3,210.0 478.7,211.3 480.0,217.0 480.7,221.0 478.0,221.1 476.0,219.0 473.7,219.7 472.7,218.0 469.3,215.0 467.7,213.0 471.3,210.7 472.0,208.3 469.3,207.0 465.3,206.3 462.0,207.0 458.7,204.3 457.0,200.0Z" fill="none" stroke="#5f7a66" stroke-width="0.4" stroke-linejoin="round"/>
<path d="M111.6,245.6 114.0,245.6 121.0,246.0 127.0,247.0 132.0,250.0 137.0,253.0 140.0,252.4 143.0,257.0 145.0,260.4 143.0,266.0 142.4,272.0 145.0,278.0 149.0,281.0 155.0,280.0 158.0,277.0 158.4,274.0 166.4,273.2 165.0,277.0 163.4,280.0 162.4,280.4 160.4,280.4 160.4,282.4 158.0,282.4 155.0,284.0 152.4,288.6 148.0,288.6 143.0,288.0 136.0,285.0 130.0,281.0 125.0,278.0 123.6,274.0 124.0,270.0 121.0,265.0 118.0,260.0 115.0,254.0 112.4,248.0ZM106.0,244.0 111.6,245.6 110.0,249.0 111.0,254.0 113.0,259.0 115.0,264.0 116.0,269.0 114.0,268.0 112.0,264.0 110.0,260.0 108.0,257.0 108.4,254.0 106.4,250.0Z" fill="none" stroke="#5f7a66" stroke-width="0.4" stroke-linejoin="round"/>
<path d="M359.0,237.4 365.0,234.0 374.0,232.6 380.0,233.0 381.0,238.0 380.0,243.0 383.0,247.0 384.4,251.0 384.0,258.0 386.0,263.0 389.0,267.0 389.0,268.0 380.0,273.5 372.0,279.0 368.0,276.0 360.0,270.0 352.0,264.5 349.0,264.0 345.0,261.0 343.5,257.0 343.6,255.0 346.0,252.0 352.0,250.0 355.0,247.0 360.0,244.0Z" fill="none" stroke="#5f7a66" stroke-width="0.4" stroke-linejoin="round"/>
<path d="M406.0,318.0 416.0,316.0 426.0,317.6 433.0,319.0 434.4,324.0 432.0,330.0 430.0,335.0 429.6,341.0 431.0,346.0 430.0,350.0 428.0,353.0 429.0,357.0 430.0,363.0 426.0,360.0 422.0,358.0 418.0,359.0 415.0,358.0 413.6,353.0 413.0,348.0 406.0,349.0 402.0,345.0 395.0,344.4 391.6,344.0 391.0,341.0 396.0,340.0 400.0,336.0 402.0,330.0 404.0,324.0Z" fill="none" stroke="#5f7a66" stroke-width="0.4" stroke-linejoin="round"/>
<path d="M180.0,341.0 182.0,339.0 185.0,336.0 188.0,333.0 189.0,329.4 192.0,332.0 196.0,334.0 200.0,335.0 201.0,339.0 199.0,342.0 195.6,344.0 194.0,349.0 196.0,353.0 200.0,354.0 205.0,357.0 204.4,362.0 205.6,367.0 204.0,373.0 203.6,377.0 200.0,374.0 195.0,369.0 190.0,363.0 185.0,355.0 180.0,348.0 176.0,343.0 175.6,340.0 177.0,338.0 178.0,338.0Z" fill="none" stroke="#5f7a66" stroke-width="0.4" stroke-linejoin="round"/>
<path d="M349.0,264.0 352.0,264.5 360.0,270.0 368.0,276.0 372.0,279.0 372.5,285.0 370.0,288.0 364.5,289.5 364.0,291.0 361.0,289.5 358.0,292.0 355.0,294.5 352.0,298.0 350.0,302.0 347.0,302.0 344.0,300.5 343.0,297.5 340.0,297.0 336.5,295.0 336.0,289.5 350.0,288.5 349.0,270.0Z" fill="none" stroke="#5f7a66" stroke-width="0.4" stroke-linejoin="round"/>
<path d="M739.0,420.0 741.0,419.0 741.6,424.0 744.0,427.0 747.0,427.6 743.0,431.0 740.0,434.0 736.0,436.0 733.0,437.0 732.0,434.0 736.0,431.0 738.0,426.0ZM706.0,448.0 712.0,444.0 720.0,440.0 728.0,436.0 731.0,435.6 731.0,438.0 725.0,442.0 718.0,446.0 711.0,449.6 707.0,450.4Z" fill="none" stroke="#5f7a66" stroke-width="0.4" stroke-linejoin="round"/>
<path d="M400.0,403.6 404.0,405.0 407.6,404.0 408.4,398.0 410.0,399.6 413.0,396.4 417.0,397.0 421.0,395.0 425.0,390.0 429.0,386.4 433.0,387.6 434.4,391.0 435.0,396.0 436.0,399.0 434.0,404.0 430.0,410.0 425.0,415.0 418.0,418.0 410.0,419.0 405.0,419.6 403.0,416.0 402.0,410.0Z" fill="none" stroke="#5f7a66" stroke-width="0.4" stroke-linejoin="round"/>
<path d="M419.0,272.0 445.6,272.0 449.0,277.0 450.0,283.0 447.0,286.0 446.0,293.0 442.4,298.0 440.0,302.0 435.0,301.0 430.0,304.0 425.0,305.0 419.6,304.0 417.0,300.0 415.0,294.0 416.0,289.0 418.0,285.0 418.4,277.0Z" fill="none" stroke="#5f7a66" stroke-width="0.4" stroke-linejoin="round"/>
<path d="M199.0,297.0 196.0,300.0 195.0,304.0 196.4,307.0 199.0,310.0 203.0,312.0 207.0,313.0 207.6,317.0 207.0,322.0 203.0,325.0 202.4,330.0 203.0,335.0 201.0,339.0 200.0,335.0 196.0,334.0 192.0,332.0 189.0,329.4 185.0,327.0 181.6,325.0 182.4,321.0 184.0,317.0 183.6,311.0 184.4,307.0 187.0,304.0 190.0,301.0 195.0,298.6Z" fill="none" stroke="#5f7a66" stroke-width="0.4" stroke-linejoin="round"/>
<path d="M517.5,233.3 523.3,232.5 529.2,235.0 530.8,237.5 525.8,239.2 525.8,242.5 527.0,245.8 525.0,250.0 522.5,255.0 519.2,259.2 520.0,263.3 522.5,265.8 517.5,265.8 515.0,262.5 508.3,263.0 501.7,262.5 502.5,258.3 499.2,253.3 504.2,252.5 509.2,250.0 513.3,246.7 515.8,242.5 517.5,238.3Z" fill="none" stroke="#5f7a66" stroke-width="0.4" stroke-linejoin="round"/>
<path d="M576.0,259.0 578.0,257.5 580.0,256.0 583.0,256.0 584.0,259.5 583.5,264.0 586.5,268.0 589.0,271.5 591.2,273.5 588.5,275.5 586.5,277.5 585.0,280.0 585.5,283.0 586.5,285.0 587.5,289.0 588.5,293.0 589.5,297.0 590.0,300.0 589.0,301.0 588.2,297.0 587.0,293.0 585.5,289.0 584.5,286.2 583.5,287.0 580.5,288.0 578.0,287.0 577.5,284.0 575.5,280.0 573.0,275.5 571.0,272.0 569.0,269.0 568.5,265.0 571.0,266.0 573.0,264.5 575.0,262.0Z" fill="none" stroke="#5f7a66" stroke-width="0.4" stroke-linejoin="round"/>
<path d="M396.5,270.5 397.5,269.0 408.0,272.6 417.0,277.0 418.0,285.0 416.0,289.0 415.0,294.0 417.0,300.0 414.0,302.0 409.0,305.0 404.0,308.0 400.0,309.0 399.0,308.0 397.5,305.0 398.0,301.0 395.5,297.5 394.0,293.5 395.0,288.0 397.0,284.0 397.5,279.0Z" fill="none" stroke="#5f7a66" stroke-width="0.4" stroke-linejoin="round"/>
<path d="M372.0,279.0 380.0,273.5 389.0,268.0 394.0,270.0 396.5,270.5 397.5,279.0 397.0,284.0 395.0,288.0 394.0,293.5 390.0,294.5 384.0,293.5 379.0,294.0 374.5,293.0 371.0,297.0 368.0,295.0 364.5,291.0 364.5,289.5 370.0,288.0 372.5,285.0Z" fill="none" stroke="#5f7a66" stroke-width="0.4" stroke-linejoin="round"/>
<path d="M205.0,357.0 208.0,356.0 211.0,355.0 215.0,358.0 220.0,362.0 223.6,365.0 224.4,370.0 227.0,373.0 228.0,379.0 231.0,381.0 228.0,380.6 223.6,381.0 221.6,385.0 218.0,387.0 213.0,387.0 210.0,388.0 208.0,385.0 205.6,381.0 203.6,377.0 204.0,373.0 205.6,367.0 204.4,362.0Z" fill="none" stroke="#5f7a66" stroke-width="0.4" stroke-linejoin="round"/>
<path d="M391.6,344.0 395.0,344.4 402.0,345.0 406.0,349.0 413.0,348.0 413.6,353.0 415.0,358.0 418.0,359.0 413.6,363.0 412.4,368.0 413.0,374.0 416.0,375.6 410.0,375.0 402.0,374.4 394.0,374.0 390.0,373.6 391.0,368.0 393.6,362.0 394.4,356.0 393.0,350.0Z" fill="none" stroke="#5f7a66" stroke-width="0.4" stroke-linejoin="round"/>
<path d="M199.6,298.0 200.0,299.0 198.0,302.0 199.0,305.0 201.0,302.0 205.0,300.6 210.0,302.0 216.0,301.4 220.0,302.6 223.6,304.0 225.0,307.0 223.0,310.0 223.6,314.0 223.6,318.0 220.0,317.0 216.0,318.0 214.0,321.0 215.0,325.0 211.6,327.0 209.0,324.0 207.6,317.0 207.0,313.0 203.0,312.0 199.0,310.0 196.4,307.0 195.0,304.0 196.0,300.0Z" fill="none" stroke="#5f7a66" stroke-width="0.4" stroke-linejoin="round"/>
<path d="M390.0,373.6 394.0,374.0 402.0,374.4 410.0,375.0 416.0,375.6 411.0,377.0 410.0,383.0 409.0,390.0 408.4,398.0 407.6,404.0 404.0,405.0 400.0,403.0 397.0,396.0 395.0,388.0 392.0,380.0Z" fill="none" stroke="#5f7a66" stroke-width="0.4" stroke-linejoin="round"/>
<path d="M655.7,210.8 657.9,212.5 660.8,213.8 664.2,213.3 666.7,215.4 664.2,216.7 663.3,218.8 660.0,220.0 658.3,218.8 656.2,217.5 656.2,215.0ZM660.0,221.2 662.1,222.5 664.6,225.0 665.4,228.3 667.1,231.7 667.7,235.4 665.8,237.9 663.3,238.3 660.8,240.8 659.2,239.2 657.5,237.9 655.0,237.5 652.9,237.1 650.8,237.5 649.2,239.2 647.1,241.7 646.7,242.9 648.8,241.7 650.8,240.0 653.3,239.2 655.4,239.6 657.1,236.7 657.5,232.9 659.6,230.8 660.8,227.5 660.0,224.2ZM652.9,240.4 655.4,239.8 657.1,240.4 655.0,242.1 653.3,242.5ZM647.1,242.5 649.2,241.2 651.2,242.5 652.1,245.4 651.2,247.7 649.6,246.7 648.3,244.6Z" fill="none" stroke="#5f7a66" stroke-width="0.4" stroke-linejoin="round"/>
<path d="M593.0,270.5 595.0,269.0 599.0,268.0 602.5,269.0 604.5,271.5 606.0,273.5 603.5,275.0 602.5,277.0 604.5,280.0 607.5,283.5 610.5,287.0 612.5,290.5 613.5,294.5 613.0,298.0 610.5,300.5 607.5,302.5 605.0,305.5 603.5,304.0 604.0,301.5 606.0,300.5 608.5,298.0 609.5,295.0 609.0,292.0 608.0,289.5 606.5,287.0 604.0,284.0 601.0,281.0 599.0,278.5 599.5,276.0 597.0,274.5 595.0,272.0Z" fill="none" stroke="#5f7a66" stroke-width="0.4" stroke-linejoin="round"/>
<path d="M637.0,281.0 640.0,280.5 641.8,282.0 642.0,285.5 641.0,289.0 642.5,291.0 645.0,292.0 646.5,293.5 647.0,295.5 649.5,296.5 651.2,298.5 651.5,300.5 650.0,301.2 648.5,299.5 646.5,297.5 644.5,295.5 642.0,294.0 640.0,293.0 638.5,291.0 637.0,288.0 636.5,284.5ZM638.5,294.0 640.5,294.5 641.0,296.5 639.8,296.5ZM642.5,298.5 645.0,299.0 646.5,301.0 647.5,300.0 649.0,300.5 649.5,303.0 648.2,304.0 646.5,305.0 645.0,304.5 644.5,302.0 643.0,300.5ZM643.5,309.0 646.0,307.5 648.5,307.0 650.5,304.5 652.5,304.0 654.0,307.0 654.2,310.0 653.0,313.0 651.5,314.5 649.5,312.5 647.5,310.5 645.5,310.0 644.0,310.8ZM632.2,307.2 634.5,304.0 637.0,300.0 637.8,300.5 635.5,304.5 633.0,307.5Z" fill="none" stroke="#5f7a66" stroke-width="0.4" stroke-linejoin="round"/>
<path d="M479.0,211.0 483.3,210.0 490.0,212.5 496.7,215.0 501.7,215.8 505.0,219.2 510.0,221.7 512.5,222.5 510.8,225.0 506.7,225.8 509.2,229.2 506.7,231.3 503.3,228.3 498.3,225.0 493.3,221.7 485.0,219.0 480.7,221.0 479.7,215.0 479.0,211.0Z" fill="none" stroke="#5f7a66" stroke-width="0.4" stroke-linejoin="round"/>
<path d="M354.0,203.0 357.5,202.0 360.0,201.0 362.5,200.0 365.0,198.5 367.5,196.5 369.5,198.0 372.5,199.0 375.5,200.0 378.0,201.5 377.0,204.5 375.5,207.0 377.0,208.5 377.5,211.0 378.5,213.5 376.0,215.0 373.5,214.8 370.5,215.5 368.5,218.0 365.0,217.0 361.0,216.0 360.5,212.5 360.0,209.5 358.0,206.5 355.5,204.5ZM381.2,217.5 382.7,217.1 383.2,220.0 381.7,220.7Z" fill="none" stroke="#5f7a66" stroke-width="0.4" stroke-linejoin="round"/>
<path d="M586.5,277.5 588.5,275.5 590.0,275.0 590.5,276.5 592.0,279.5 593.0,282.0 595.0,282.5 598.0,282.0 599.5,281.5 601.5,284.0 603.5,287.5 603.0,289.5 599.5,291.5 597.5,293.5 597.0,295.5 595.0,296.0 594.0,294.0 592.5,293.5 591.5,296.0 591.2,299.0 590.8,302.0 591.5,305.0 593.5,308.0 595.0,311.0 597.0,312.5 599.5,312.5 597.5,312.0 594.5,312.5 592.5,310.0 590.0,308.0 588.8,305.0 589.0,300.0 589.0,301.0 590.0,300.0 589.5,297.0 588.5,293.0 587.5,289.0 586.5,285.0 585.5,283.0 585.0,280.0Z" fill="none" stroke="#5f7a66" stroke-width="0.4" stroke-linejoin="round"/>
<path d="M410.0,194.5 413.0,194.8 417.5,194.5 421.5,195.0 424.0,194.5 427.0,193.5 430.5,194.0 431.0,196.0 435.0,197.5 439.0,199.0 443.0,200.0 443.8,202.5 442.5,204.5 440.5,206.0 437.5,207.0 434.5,208.0 436.5,209.5 437.5,211.0 434.5,212.5 432.5,212.8 431.2,211.0 430.0,209.5 427.0,208.0 424.5,209.0 423.5,207.0 422.0,204.5 420.0,203.5 417.5,203.0 414.0,203.5 411.5,203.8 409.0,203.5 408.0,201.5 409.0,199.0 410.0,197.0Z" fill="none" stroke="#5f7a66" stroke-width="0.4" stroke-linejoin="round"/>
<path d="M418.0,359.0 422.0,358.0 426.0,360.0 430.0,363.0 429.0,357.0 428.0,353.0 430.0,350.0 436.0,352.0 439.0,355.0 438.0,361.0 436.0,365.0 431.0,368.0 427.0,372.0 423.0,375.6 418.0,375.0 413.0,374.0 412.4,368.0 413.6,363.0Z" fill="none" stroke="#5f7a66" stroke-width="0.4" stroke-linejoin="round"/>
<path d="M594.5,312.5 597.5,312.0 599.5,314.5 601.2,318.0 601.8,321.5 603.5,325.0 601.5,325.5 599.0,323.0 596.5,319.5 594.8,316.0 594.0,313.5ZM615.0,324.5 617.0,324.0 620.0,322.5 624.0,320.0 627.0,317.5 629.5,315.0 632.0,311.0 635.0,313.5 637.5,315.0 635.5,316.5 634.0,318.0 631.0,318.5 629.5,320.0 628.5,322.5 626.0,324.0 623.0,325.0 620.5,326.5 618.0,326.5 616.0,326.0Z" fill="none" stroke="#5f7a66" stroke-width="0.4" stroke-linejoin="round"/>
<path d="M434.0,332.0 442.0,331.6 453.0,340.0 454.0,346.0 453.0,350.0 455.6,356.0 450.0,359.0 443.0,358.4 439.0,355.0 436.0,352.0 432.0,349.0 431.0,346.0 431.6,340.0 433.0,336.0Z" fill="none" stroke="#5f7a66" stroke-width="0.4" stroke-linejoin="round"/>
<path d="M418.4,247.0 426.0,247.4 433.0,248.6 437.0,248.0 440.0,251.0 438.4,256.0 437.0,253.0 435.6,250.0 438.0,258.0 442.0,265.0 445.6,271.4 419.0,271.4Z" fill="none" stroke="#5f7a66" stroke-width="0.4" stroke-linejoin="round"/>
<path d="M371.0,297.0 374.5,293.0 379.0,294.0 384.0,293.5 390.0,294.5 394.0,293.5 395.5,297.0 396.5,301.0 395.0,304.0 392.0,306.0 390.0,309.5 387.0,312.5 384.0,314.0 384.0,313.0 381.6,317.0 378.0,318.0 374.0,316.0 371.0,313.0 370.0,309.0 370.8,307.0 372.2,302.0Z" fill="none" stroke="#5f7a66" stroke-width="0.4" stroke-linejoin="round"/>
<path d="M377.5,211.0 377.0,208.5 378.0,209.0 381.0,208.5 383.0,208.0 386.0,208.5 389.5,209.5 389.0,211.0 388.5,212.5 390.5,215.0 394.0,218.5 398.0,221.5 401.5,223.5 402.0,225.0 400.0,225.5 399.0,227.5 398.0,230.0 396.5,229.0 397.0,226.5 395.0,224.5 392.0,222.0 389.0,219.0 386.5,216.0 384.0,214.0 381.5,213.0 379.0,214.0ZM380.4,222.1 383.3,221.7 384.2,224.6 383.3,227.3 381.2,227.5 380.7,225.0ZM389.6,230.0 393.3,229.2 396.2,229.6 395.4,232.9 392.5,232.1 390.4,231.5Z" fill="none" stroke="#5f7a66" stroke-width="0.4" stroke-linejoin="round"/>
<path d="M400.0,309.0 404.0,308.0 409.0,305.0 414.0,302.0 417.0,300.6 419.6,304.0 425.0,311.4 428.0,315.0 420.0,316.0 416.0,317.0 410.0,318.0 406.0,317.0 403.0,321.0 401.0,318.0 399.0,313.0Z" fill="none" stroke="#5f7a66" stroke-width="0.4" stroke-linejoin="round"/>
<path d="M461.0,389.0 462.4,380.0 464.0,373.0 469.0,369.0 474.0,364.0 476.0,361.0 478.0,365.0 477.6,371.0 475.0,379.0 472.0,387.0 469.0,393.0 465.0,395.6 461.6,394.0Z" fill="none" stroke="#5f7a66" stroke-width="0.4" stroke-linejoin="round"/>
<path d="M344.0,244.0 348.0,239.0 352.0,236.0 359.0,237.4 360.0,244.0 355.0,247.0 352.0,250.0 346.0,252.0 343.6,255.0 339.0,256.6 334.4,256.6 339.0,252.0 342.0,247.0Z" fill="none" stroke="#5f7a66" stroke-width="0.4" stroke-linejoin="round"/>
<path d="M343.3,216.7 345.8,215.4 351.7,215.4 358.3,215.8 363.8,217.5 368.3,218.3 369.6,219.6 365.8,222.1 363.3,225.0 362.1,228.3 360.0,230.8 356.7,232.9 352.9,233.8 350.4,235.0 348.8,232.9 347.5,232.1 347.9,228.3 347.5,225.0 348.8,221.7 348.3,219.6 344.6,218.8Z" fill="none" stroke="#5f7a66" stroke-width="0.4" stroke-linejoin="round"/>
<path d="M411.0,377.0 416.0,376.0 422.4,376.0 423.6,379.0 425.6,383.0 429.0,386.0 425.0,390.0 421.0,395.0 417.0,397.0 413.0,396.4 410.0,399.6 408.4,398.0 409.0,390.0 410.0,383.0Z" fill="none" stroke="#5f7a66" stroke-width="0.4" stroke-linejoin="round"/>
<path d="M395.5,297.5 398.0,301.0 397.5,305.0 399.0,308.0 400.0,309.0 399.0,313.0 401.0,318.0 402.0,323.0 396.0,323.4 390.0,323.0 386.0,323.0 385.6,319.0 384.0,316.0 387.0,314.0 387.0,312.5 390.0,309.5 392.0,306.0 395.0,304.0 396.5,301.0Z" fill="none" stroke="#5f7a66" stroke-width="0.4" stroke-linejoin="round"/>
<path d="M396.0,323.4 402.0,323.0 403.0,321.0 406.0,317.4 407.0,323.0 404.0,329.0 401.0,335.0 398.0,340.0 393.0,342.0 390.0,341.0 389.6,338.0 395.0,336.0 397.0,331.0 396.0,327.0Z" fill="none" stroke="#5f7a66" stroke-width="0.4" stroke-linejoin="round"/>
<path d="M442.0,320.0 445.6,315.6 450.0,318.4 458.0,319.0 457.0,325.0 459.0,332.0 456.0,336.0 453.0,340.0 442.0,331.6 443.0,326.0Z" fill="none" stroke="#5f7a66" stroke-width="0.4" stroke-linejoin="round"/>
<path d="M223.6,381.0 228.0,380.0 231.0,381.0 233.0,386.0 237.0,389.0 241.0,393.0 240.0,398.0 237.0,401.0 233.0,400.0 232.4,396.0 228.0,393.0 224.0,390.0 221.6,385.0Z" fill="none" stroke="#5f7a66" stroke-width="0.4" stroke-linejoin="round"/>
<path d="M591.2,273.5 593.0,270.5 595.0,272.0 597.0,274.5 599.5,276.0 599.0,278.5 601.0,281.0 604.0,284.0 606.5,287.0 608.0,289.5 606.0,291.5 604.5,289.5 603.5,287.5 601.5,284.0 599.5,281.5 598.0,282.0 595.0,282.5 593.0,282.0 592.0,279.5 590.5,276.5 590.0,275.0Z" fill="none" stroke="#5f7a66" stroke-width="0.4" stroke-linejoin="round"/>
<path d="M375.8,189.5 378.0,188.0 380.5,187.0 381.5,188.5 385.0,188.0 389.0,189.0 390.5,191.5 391.2,194.5 392.0,197.0 388.5,198.5 388.0,200.0 389.5,202.5 388.5,204.5 385.0,204.5 382.0,205.5 379.0,204.5 378.0,201.5 375.5,200.0 375.2,197.5 375.0,195.0 375.8,192.5Z" fill="none" stroke="#5f7a66" stroke-width="0.4" stroke-linejoin="round"/>
<path d="M351.5,179.5 354.0,177.5 357.5,177.8 356.5,180.0 359.0,180.5 358.5,183.0 360.5,185.0 362.5,188.5 365.0,191.5 366.2,194.0 365.0,196.0 361.5,196.5 358.0,197.0 354.5,198.0 351.5,198.5 353.5,196.5 355.0,195.0 353.0,194.0 353.5,191.5 355.5,190.5 354.0,188.5 355.0,186.0 353.0,185.0 352.5,182.5Z" fill="none" stroke="#5f7a66" stroke-width="0.4" stroke-linejoin="round"/>
<path d="M422.4,376.0 427.0,372.0 431.0,369.0 435.0,371.0 438.0,374.0 438.4,379.0 436.0,384.0 433.0,387.6 429.0,386.0 425.6,383.0 423.6,379.0Z" fill="none" stroke="#5f7a66" stroke-width="0.4" stroke-linejoin="round"/>
<path d="M352.0,298.0 355.0,294.5 358.0,292.0 361.0,289.5 364.0,291.0 368.0,295.0 369.0,297.0 366.5,299.0 363.0,300.5 358.0,300.0 355.0,301.0 354.0,303.0 351.0,302.0 350.0,302.0Z" fill="none" stroke="#5f7a66" stroke-width="0.4" stroke-linejoin="round"/>
<path d="M405.8,224.6 406.8,223.3 408.3,222.3 410.8,221.8 412.5,221.5 415.4,221.2 418.3,220.7 419.3,221.8 416.7,222.7 414.2,222.9 412.9,224.3 413.8,226.2 414.6,228.3 414.2,230.4 412.9,231.7 412.3,233.8 410.4,232.7 409.2,230.4 407.5,227.5 406.2,225.8ZM414.0,236.0 416.7,236.2 419.6,236.7 419.6,237.7 416.7,237.7 414.2,237.1Z" fill="none" stroke="#5f7a66" stroke-width="0.4" stroke-linejoin="round"/>
<path d="M177.0,328.0 180.0,326.0 185.0,326.6 189.6,330.0 188.0,334.0 184.0,336.0 182.4,340.0 180.0,341.4 177.6,337.4 176.0,333.0Z" fill="none" stroke="#5f7a66" stroke-width="0.4" stroke-linejoin="round"/>
<path d="M511.7,219.2 515.8,216.7 523.3,216.3 531.3,217.5 528.7,221.3 523.7,223.0 523.0,225.3 519.2,225.3 514.2,225.8 513.3,223.3 516.7,222.5 512.5,222.5 510.0,221.7Z" fill="none" stroke="#5f7a66" stroke-width="0.4" stroke-linejoin="round"/>
<path d="M406.2,206.7 410.0,204.6 416.7,203.8 420.4,205.4 421.7,207.5 422.5,210.0 422.9,211.2 421.7,213.3 418.8,214.6 414.2,215.0 411.5,215.8 410.0,214.6 407.9,212.5 406.2,209.6Z" fill="none" stroke="#5f7a66" stroke-width="0.4" stroke-linejoin="round"/>
<path d="M409.5,190.5 412.5,187.5 415.0,185.0 416.0,183.8 419.0,184.5 422.0,185.5 423.5,188.5 426.5,190.8 424.5,192.0 424.0,194.5 421.5,195.0 417.5,194.5 413.0,194.8 410.0,194.5 409.2,192.5Z" fill="none" stroke="#5f7a66" stroke-width="0.4" stroke-linejoin="round"/>
<path d="M171.5,271.5 174.0,270.0 177.0,268.8 180.0,269.5 184.0,271.0 188.0,273.5 192.0,275.0 194.5,276.0 192.0,277.0 189.0,277.0 186.5,275.0 183.0,273.0 179.0,271.8 175.0,271.5 172.5,272.2Z" fill="none" stroke="#5f7a66" stroke-width="0.4" stroke-linejoin="round"/>
<path d="M344.0,301.0 347.0,302.0 350.0,302.0 351.0,303.0 354.0,303.0 355.5,305.0 356.0,309.0 355.5,313.0 355.2,316.0 350.0,316.2 345.0,315.5 344.5,311.0 344.0,308.0 344.5,304.5Z" fill="none" stroke="#5f7a66" stroke-width="0.4" stroke-linejoin="round"/>
<path d="M329.0,300.5 331.5,297.0 334.0,296.5 336.5,297.0 340.0,297.0 343.0,298.0 344.0,301.0 344.5,304.0 343.5,307.5 342.0,306.0 340.0,304.0 338.5,303.0 336.0,302.5 333.5,303.0 332.0,305.0 330.0,302.0Z" fill="none" stroke="#5f7a66" stroke-width="0.4" stroke-linejoin="round"/>
<path d="M380.8,232.1 384.2,231.2 386.7,232.5 385.4,235.8 387.1,240.0 388.3,242.9 385.8,245.8 384.2,249.2 382.9,246.7 381.2,244.2 379.6,240.8 380.4,236.7Z" fill="none" stroke="#5f7a66" stroke-width="0.4" stroke-linejoin="round"/>
<path d="M237.0,408.0 239.0,409.0 244.0,411.0 247.6,413.0 246.4,417.0 244.0,419.6 240.0,420.0 236.0,418.0 235.0,413.0 235.6,409.0Z" fill="none" stroke="#5f7a66" stroke-width="0.4" stroke-linejoin="round"/>
<path d="M356.0,301.0 358.0,300.2 363.0,300.5 364.0,305.0 364.5,309.5 364.0,314.0 360.0,315.8 355.2,316.0 356.0,309.0 355.8,305.0Z" fill="none" stroke="#5f7a66" stroke-width="0.4" stroke-linejoin="round"/>
<path d="M223.6,307.0 227.0,308.6 229.0,312.0 230.0,316.0 231.0,321.0 228.0,324.0 225.0,322.0 223.6,318.0 223.6,314.0 223.0,310.0Z" fill="none" stroke="#5f7a66" stroke-width="0.4" stroke-linejoin="round"/>
<path d="M323.0,290.5 324.5,288.0 326.5,286.0 330.0,286.0 333.0,288.0 335.5,289.5 336.5,295.0 334.0,296.0 330.0,295.5 326.0,296.0 324.5,295.0 331.0,294.0 330.5,292.8 324.5,293.5Z" fill="none" stroke="#5f7a66" stroke-width="0.4" stroke-linejoin="round"/>
<path d="M597.5,293.5 599.5,291.5 603.0,291.0 606.0,291.5 608.0,292.5 609.0,295.0 608.5,298.0 606.0,299.5 604.0,301.5 601.5,300.5 599.0,299.0 597.5,296.5 597.0,295.5Z" fill="none" stroke="#5f7a66" stroke-width="0.4" stroke-linejoin="round"/>
<path d="M509.2,229.2 506.7,225.8 510.8,225.0 514.2,225.8 519.2,225.0 523.0,225.3 523.7,228.3 523.7,231.7 520.0,232.0 516.7,230.8 513.3,230.0 510.8,232.0 508.3,231.7Z" fill="none" stroke="#5f7a66" stroke-width="0.4" stroke-linejoin="round"/>
<path d="M391.2,209.2 395.0,208.3 399.2,208.8 402.9,209.2 402.5,211.2 399.6,211.2 395.8,211.7 397.5,213.8 400.0,215.8 402.1,217.5 400.0,216.8 397.5,215.0 395.4,212.9 394.2,210.8 392.1,210.4Z" fill="none" stroke="#5f7a66" stroke-width="0.4" stroke-linejoin="round"/>
<path d="M560.8,260.8 564.2,260.0 567.5,261.7 569.2,264.2 569.7,268.3 568.3,271.7 565.8,269.2 564.2,271.7 562.5,268.3 561.3,265.0Z" fill="none" stroke="#5f7a66" stroke-width="0.4" stroke-linejoin="round"/>
<path d="M366.0,300.5 369.0,297.0 371.0,298.0 372.0,302.0 370.5,307.0 369.5,314.0 366.8,314.0 366.8,307.0Z" fill="none" stroke="#5f7a66" stroke-width="0.4" stroke-linejoin="round"/>
<path d="M447.0,216.0 449.5,215.5 453.0,217.0 457.0,218.0 460.0,219.5 462.0,221.0 459.0,222.0 456.0,221.5 453.5,219.8 450.5,218.5 448.0,217.5Z" fill="none" stroke="#5f7a66" stroke-width="0.4" stroke-linejoin="round"/>
<path d="M163.5,294.5 165.0,294.0 167.5,291.5 170.0,290.0 172.5,289.5 172.0,293.0 171.5,296.5 170.5,299.5 168.0,300.0 166.2,298.5 164.5,296.5Z" fill="none" stroke="#5f7a66" stroke-width="0.4" stroke-linejoin="round"/>
<path d="M402.9,209.2 405.8,208.8 407.9,212.5 410.0,214.6 411.5,215.8 410.8,218.3 410.0,219.2 408.2,219.2 407.9,217.3 406.2,216.5 405.0,217.1 404.6,215.0 403.8,212.9 402.5,211.2Z" fill="none" stroke="#5f7a66" stroke-width="0.4" stroke-linejoin="round"/>
<path d="M336.5,308.5 339.0,306.5 340.0,304.5 342.5,307.0 344.0,309.5 344.5,313.0 345.0,315.5 342.0,314.0 339.0,311.0Z" fill="none" stroke="#5f7a66" stroke-width="0.4" stroke-linejoin="round"/>
<path d="M634.6,230.0 637.5,228.8 640.0,230.0 642.1,232.9 643.8,235.8 642.9,237.9 640.4,238.8 638.3,237.9 637.1,235.0 635.4,232.1Z" fill="none" stroke="#5f7a66" stroke-width="0.4" stroke-linejoin="round"/>
<path d="M159.5,289.5 161.5,287.8 165.0,287.5 169.0,287.2 172.0,289.0 170.0,290.0 167.5,291.5 165.0,294.0 163.5,294.5 162.5,292.8 160.0,291.8Z" fill="none" stroke="#5f7a66" stroke-width="0.4" stroke-linejoin="round"/>
<path d="M152.5,288.5 155.0,284.0 158.0,282.5 160.5,282.5 160.5,286.5 161.5,287.5 159.5,289.5 158.0,291.5 156.0,292.5 153.5,291.0Z" fill="none" stroke="#5f7a66" stroke-width="0.4" stroke-linejoin="round"/>
<path d="M343.3,218.8 344.6,218.8 348.3,219.6 348.8,221.7 347.5,225.0 347.9,228.3 347.5,232.1 344.2,232.5 343.8,229.2 342.5,227.1 343.3,223.3Z" fill="none" stroke="#5f7a66" stroke-width="0.4" stroke-linejoin="round"/>
<path d="M411.5,215.8 413.8,215.0 418.8,214.6 421.7,214.0 422.1,215.8 420.8,217.3 421.7,219.2 418.8,220.8 415.4,221.2 412.5,221.5 411.5,220.4 410.8,218.3Z" fill="none" stroke="#5f7a66" stroke-width="0.4" stroke-linejoin="round"/>
<path d="M2.7,271.0 4.7,271.7 6.0,273.3 4.0,273.7ZM6.7,274.0 8.7,274.3 9.0,276.0 7.3,276.0ZM9.3,276.0 11.7,276.7 12.3,279.0 10.0,279.7 9.0,277.7Z" fill="none" stroke="#5f7a66" stroke-width="0.4" stroke-linejoin="round"/>
<path d="M439.0,355.0 441.0,357.0 441.6,362.0 444.0,367.0 443.6,371.0 441.6,370.0 440.4,366.0 439.0,362.0Z" fill="none" stroke="#5f7a66" stroke-width="0.4" stroke-linejoin="round"/>
<path d="M460.0,223.0 463.3,221.7 465.7,220.3 466.7,221.7 469.3,223.3 468.0,224.7 467.7,228.3 466.3,227.7 466.0,225.7 464.3,226.0 462.7,225.0 461.3,224.3Z" fill="none" stroke="#5f7a66" stroke-width="0.4" stroke-linejoin="round"/>
<path d="M343.2,194.5 344.5,189.5 347.0,187.0 350.0,186.0 351.5,187.5 351.0,191.0 349.0,193.5 345.5,194.8Z" fill="none" stroke="#5f7a66" stroke-width="0.4" stroke-linejoin="round"/>
<path d="M173.5,304.5 175.0,306.5 177.0,307.5 179.0,305.5 181.5,304.5 184.0,305.5 185.0,308.0 184.0,310.0 183.0,308.0 181.0,306.5 179.5,307.5 178.5,309.5 176.5,309.0 174.5,308.0 172.5,306.2Z" fill="none" stroke="#5f7a66" stroke-width="0.4" stroke-linejoin="round"/>
<path d="M230.0,315.0 234.0,314.0 237.6,314.6 237.0,319.0 236.0,322.6 233.0,323.0 231.0,321.0 230.0,316.0Z" fill="none" stroke="#5f7a66" stroke-width="0.4" stroke-linejoin="round"/>
<path d="M388.0,198.5 392.0,197.0 396.0,198.0 399.5,199.5 398.5,201.5 395.0,202.0 392.0,202.5 389.5,202.5 388.0,200.0Z" fill="none" stroke="#5f7a66" stroke-width="0.4" stroke-linejoin="round"/>
<path d="M382.0,205.5 385.0,204.5 388.5,204.5 391.0,205.5 394.0,207.0 393.0,209.0 389.5,209.5 386.0,208.5 383.0,208.0 383.0,207.0Z" fill="none" stroke="#5f7a66" stroke-width="0.4" stroke-linejoin="round"/>
<path d="M403.2,181.0 405.0,180.0 407.5,180.0 408.5,179.5 411.5,180.2 414.0,179.8 415.5,181.5 416.0,183.8 413.5,184.0 410.5,183.2 407.5,182.8 405.0,183.8 403.5,183.0Z" fill="none" stroke="#5f7a66" stroke-width="0.4" stroke-linejoin="round"/>
<path d="M395.8,211.7 399.6,211.2 402.9,211.7 404.3,214.6 403.5,216.2 402.1,217.5 400.0,215.8 397.5,213.8Z" fill="none" stroke="#5f7a66" stroke-width="0.4" stroke-linejoin="round"/>
<path d="M546.9,304.0 549.2,304.8 551.5,308.6 550.8,312.5 548.5,313.2 546.9,310.2 546.2,306.3Z" fill="none" stroke="#5f7a66" stroke-width="0.4" stroke-linejoin="round"/>
<path d="M766.0,375.0 769.3,374.0 770.0,376.0 767.0,377.3ZM770.0,371.7 773.3,370.7 773.3,372.3Z" fill="none" stroke="#5f7a66" stroke-width="0.4" stroke-linejoin="round"/>
<path d="M166.2,299.8 168.5,300.2 170.5,299.8 172.0,302.0 173.5,304.5 172.0,306.0 170.0,304.5 168.0,302.5Z" fill="none" stroke="#5f7a66" stroke-width="0.4" stroke-linejoin="round"/>
<path d="M417.5,203.3 420.8,204.2 422.9,206.7 424.2,209.6 422.5,210.0 421.7,207.5 420.4,205.4Z" fill="none" stroke="#5f7a66" stroke-width="0.4" stroke-linejoin="round"/>
<path d="M406.5,176.5 409.5,175.2 414.5,175.5 415.0,177.5 414.0,179.8 411.5,180.2 408.5,179.5 406.8,178.0Z" fill="none" stroke="#5f7a66" stroke-width="0.4" stroke-linejoin="round"/>
<path d="M200.5,277.8 204.0,277.2 206.5,279.0 208.0,280.0 205.0,281.0 202.5,281.8 201.0,282.5 200.5,279.0Z" fill="none" stroke="#5f7a66" stroke-width="0.4" stroke-linejoin="round"/>
<path d="M363.5,301.0 365.5,301.0 366.5,307.0 366.5,314.0 364.5,314.2 364.5,308.0Z" fill="none" stroke="#5f7a66" stroke-width="0.4" stroke-linejoin="round"/>
<path d="M194.0,280.5 197.5,280.0 197.0,278.2 199.0,277.5 200.5,279.0 201.0,282.5 198.0,281.5 196.0,282.0Z" fill="none" stroke="#5f7a66" stroke-width="0.4" stroke-linejoin="round"/>
<path d="M375.5,207.0 377.0,205.0 379.5,204.5 382.0,205.5 383.0,207.0 381.0,208.5 378.0,209.0 377.0,208.5Z" fill="none" stroke="#5f7a66" stroke-width="0.4" stroke-linejoin="round"/>
<path d="M332.5,305.0 334.0,303.0 336.5,302.8 338.5,303.5 338.5,306.0 336.5,308.0 334.0,307.5Z" fill="none" stroke="#5f7a66" stroke-width="0.4" stroke-linejoin="round"/>
<path d="M430.0,332.4 433.6,332.0 433.6,340.0 431.0,340.4 430.0,336.0Z" fill="none" stroke="#5f7a66" stroke-width="0.4" stroke-linejoin="round"/>
<path d="M368.0,196.5 370.5,195.5 373.5,195.8 375.2,197.5 374.5,199.5 372.5,199.0 369.5,198.0Z" fill="none" stroke="#5f7a66" stroke-width="0.4" stroke-linejoin="round"/>
<path d="M423.6,405.6 426.4,404.0 428.0,406.4 425.6,409.0 423.0,408.0Z" fill="none" stroke="#5f7a66" stroke-width="0.4" stroke-linejoin="round"/>
<path d="M457.3,222.7 460.0,223.0 461.3,224.3 462.7,225.0 462.3,226.7 461.0,226.3 459.3,225.3 458.0,224.3Z" fill="none" stroke="#5f7a66" stroke-width="0.4" stroke-linejoin="round"/>
<path d="M325.0,297.0 329.0,296.5 331.5,297.0 330.5,299.0 327.0,299.5Z" fill="none" stroke="#5f7a66" stroke-width="0.4" stroke-linejoin="round"/>
<path d="M403.8,218.3 405.0,219.2 405.8,218.3 406.8,219.6 406.8,221.5 406.8,223.3 405.8,224.6 404.8,223.3 404.0,220.8Z" fill="none" stroke="#5f7a66" stroke-width="0.4" stroke-linejoin="round"/>
<path d="M157.5,292.5 159.5,291.5 162.5,292.8 163.2,294.5 160.0,294.5Z" fill="none" stroke="#5f7a66" stroke-width="0.4" stroke-linejoin="round"/>
<path d="M406.8,219.6 410.0,219.2 411.5,220.4 410.8,221.8 408.3,222.3 406.8,221.5Z" fill="none" stroke="#5f7a66" stroke-width="0.4" stroke-linejoin="round"/>
<path d="M160.5,280.5 162.5,280.5 162.8,283.0 161.8,286.5 160.5,286.5Z" fill="none" stroke="#5f7a66" stroke-width="0.4" stroke-linejoin="round"/>
<path d="M324.5,293.5 330.5,292.8 331.0,294.0 324.5,294.8Z" fill="none" stroke="#5f7a66" stroke-width="0.4" stroke-linejoin="round"/>
<path d="M391.2,207.5 394.2,207.1 395.8,207.9 395.0,208.8 391.7,209.3Z" fill="none" stroke="#5f7a66" stroke-width="0.4" stroke-linejoin="round"/>
<path d="M440.4,238.8 442.1,238.3 441.5,241.7 440.0,242.9Z" fill="none" stroke="#5f7a66" stroke-width="0.4" stroke-linejoin="round"/>
<path d="M185.0,281.0 187.5,280.5 189.5,281.5 189.0,282.5 186.0,282.5Z" fill="none" stroke="#5f7a66" stroke-width="0.4" stroke-linejoin="round"/>
<path d="M403.5,216.2 405.0,215.8 405.8,216.8 405.8,218.3 405.0,219.2 403.8,218.3Z" fill="none" stroke="#5f7a66" stroke-width="0.4" stroke-linejoin="round"/>
<path d="M492.8,381.0 494.0,380.8 494.2,382.2 493.0,382.4Z" fill="none" stroke="#5f7a66" stroke-width="0.4" stroke-linejoin="round"/>
<polyline points="540.0,201.2 537.5,206.2 546.2,210.0 553.8,213.8 561.2,216.2 570.0,218.0 580.0,218.8 586.2,220.0 593.8,216.2 596.2,212.5 602.5,210.0 607.5,206.2 603.8,203.8 600.0,203.8 600.0,198.8" fill="none" stroke="#4f7d62" stroke-width="0.35"/>
<polyline points="541.7,250.0 542.5,253.3 547.5,256.7 554.2,258.7 560.0,260.3 560.8,257.5" fill="none" stroke="#4f7d62" stroke-width="0.35"/>
<polyline points="381.5,176.0 384.5,173.0 385.0,169.0 388.0,165.5 391.0,161.5 395.0,157.0 399.0,154.0 403.0,153.0 407.0,151.5 411.0,151.0 414.0,152.5 414.5,157.0 416.5,162.0 418.0,166.0 419.5,169.0 415.5,174.0" fill="none" stroke="#d4d4d4" stroke-width="0.5"/>
<polyline points="403.0,153.0 403.5,157.0 404.0,161.5" fill="none" stroke="#d4d4d4" stroke-width="0.5"/>
<polyline points="439.9,237.7 445.0,235.0 450.3,234.3 456.3,232.3 458.3,231.0 457.7,227.7 456.3,225.0" fill="none" stroke="#d4d4d4" stroke-width="0.5"/>
<polyline points="458.3,231.0 461.0,235.0 463.7,240.3 467.7,245.7 471.7,251.0" fill="none" stroke="#d4d4d4" stroke-width="0.5"/>
<polyline points="450.3,234.3 451.0,239.0 446.3,242.3 443.7,245.7 440.3,248.3" fill="none" stroke="#d4d4d4" stroke-width="0.5"/>
<polyline points="446.3,242.3 447.7,245.0 444.3,248.3 441.7,252.3" fill="none" stroke="#d4d4d4" stroke-width="0.5"/>
<polyline points="447.7,245.0 455.7,248.3 463.7,252.3 469.0,252.3 471.7,251.0" fill="none" stroke="#d4d4d4" stroke-width="0.5"/>
<polyline points="477.0,228.3 482.3,229.7 487.7,231.7 493.0,231.0 498.3,233.7 497.0,239.0 498.3,244.3 497.0,248.3 500.3,251.7 503.7,253.7 503.0,257.7 501.0,261.7" fill="none" stroke="#d4d4d4" stroke-width="0.5"/>
<polyline points="498.3,233.7 503.7,231.0 508.3,231.0" fill="none" stroke="#d4d4d4" stroke-width="0.5"/>
<polyline points="460.0,285.0 463.0,283.0 470.0,284.0 475.0,282.0 482.0,279.0 484.5,284.5" fill="none" stroke="#d4d4d4" stroke-width="0.5"/>
<polyline points="482.0,279.0 487.5,277.0 489.0,270.0 487.5,267.0 489.8,261.8" fill="none" stroke="#d4d4d4" stroke-width="0.5"/>
<polyline points="479.0,264.5 480.0,267.0 484.0,268.5 487.5,267.0" fill="none" stroke="#d4d4d4" stroke-width="0.5"/>
<polyline points="439.5,252.5 443.0,250.0 448.0,246.0 450.0,244.0" fill="none" stroke="#d4d4d4" stroke-width="0.5"/>
<polyline points="450.0,244.0 459.0,249.0 470.0,252.5" fill="none" stroke="#d4d4d4" stroke-width="0.5"/>
<polyline points="470.5,251.0 468.0,247.0 465.0,242.0 462.0,237.0" fill="none" stroke="#d4d4d4" stroke-width="0.5"/>
<polyline points="490.5,260.8 495.0,255.0 496.0,248.0 495.0,241.0 496.0,235.0" fill="none" stroke="#d4d4d4" stroke-width="0.5"/>
<polyline points="440.0,302.0 442.0,309.0 448.0,315.0 451.0,319.0" fill="none" stroke="#d4d4d4" stroke-width="0.5"/>
<polyline points="447.0,293.0 452.0,292.0 458.0,296.0 461.8,296.4 467.0,305.0 476.0,307.0 468.0,315.0 460.0,319.0 458.0,318.6" fill="none" stroke="#d4d4d4" stroke-width="0.5"/>
<polyline points="433.0,318.0 438.0,319.0 442.4,316.0" fill="none" stroke="#d4d4d4" stroke-width="0.5"/>
<polyline points="324.0,273.0 333.5,273.0 333.5,268.0 336.5,262.5 343.0,262.0 343.5,257.0" fill="none" stroke="#d4d4d4" stroke-width="0.5"/>
<polyline points="462.4,298.6 460.0,301.0 461.8,296.4" fill="none" stroke="#d4d4d4" stroke-width="0.5"/>
<rect x="98.5" y="537.3" width="47.5" height="11" fill="url(#hatch)" stroke="#cfcfcf" stroke-width="0.8"/>
<line x1="122" y1="533" x2="122" y2="537" stroke="#cfcfcf" stroke-width="0.8"/>
<rect x="166" y="537.3" width="58.8" height="11" fill="#ffffe5"/>
<rect x="224.5" y="537.3" width="58.8" height="11" fill="#f7fcb9"/>
<rect x="283" y="537.3" width="58.8" height="11" fill="#d9f0a3"/>
<rect x="341.5" y="537.3" width="58.8" height="11" fill="#addd8e"/>
<rect x="400" y="537.3" width="58.8" height="11" fill="#78c679"/>
<rect x="458.5" y="537.3" width="58.8" height="11" fill="#41ab5d"/>
<rect x="517" y="537.3" width="58.8" height="11" fill="#238443"/>
<rect x="575.5" y="537.3" width="58.8" height="11" fill="#006837"/>
<rect x="634" y="537.3" width="58.8" height="11" fill="#00572f"/>
<rect x="692.5" y="537.3" width="58.8" height="11" fill="#004529"/>
<rect x="166" y="537.3" width="585" height="11" fill="none" stroke="#bbb" stroke-width="0.7"/>
<line x1="166" y1="533" x2="166" y2="548.3" stroke="#555" stroke-opacity="0.55" stroke-width="0.7"/>
<line x1="224.5" y1="533" x2="224.5" y2="548.3" stroke="#555" stroke-opacity="0.55" stroke-width="0.7"/>
<line x1="283" y1="533" x2="283" y2="548.3" stroke="#555" stroke-opacity="0.55" stroke-width="0.7"/>
<line x1="341.5" y1="533" x2="341.5" y2="548.3" stroke="#555" stroke-opacity="0.55" stroke-width="0.7"/>
<line x1="400" y1="533" x2="400" y2="548.3" stroke="#555" stroke-opacity="0.55" stroke-width="0.7"/>
<line x1="458.5" y1="533" x2="458.5" y2="548.3" stroke="#555" stroke-opacity="0.55" stroke-width="0.7"/>
<line x1="517" y1="533" x2="517" y2="548.3" stroke="#555" stroke-opacity="0.55" stroke-width="0.7"/>
<line x1="575.5" y1="533" x2="575.5" y2="548.3" stroke="#555" stroke-opacity="0.55" stroke-width="0.7"/>
<line x1="634" y1="533" x2="634" y2="548.3" stroke="#555" stroke-opacity="0.55" stroke-width="0.7"/>
<line x1="692.5" y1="533" x2="692.5" y2="548.3" stroke="#555" stroke-opacity="0.55" stroke-width="0.7"/>
<line x1="751" y1="533" x2="751" y2="548.3" stroke="#555" stroke-opacity="0.55" stroke-width="0.7"/>
</svg>
<div class="lg" style="left:92px">No data</div>
<div class="lg" style="left:136px">0%</div>
<div class="lg" style="left:194.5px">10%</div>
<div class="lg" style="left:253px">20%</div>
<div class="lg" style="left:311.5px">30%</div>
<div class="lg" style="left:370px">40%</div>
<div class="lg" style="left:428.5px">50%</div>
<div class="lg" style="left:487px">60%</div>
<div class="lg" style="left:545.5px">70%</div>
<div class="lg" style="left:604px">80%</div>
<div class="lg" style="left:662.5px">90%</div>
<div class="lg" style="left:721px">100%</div>
</body></html>
